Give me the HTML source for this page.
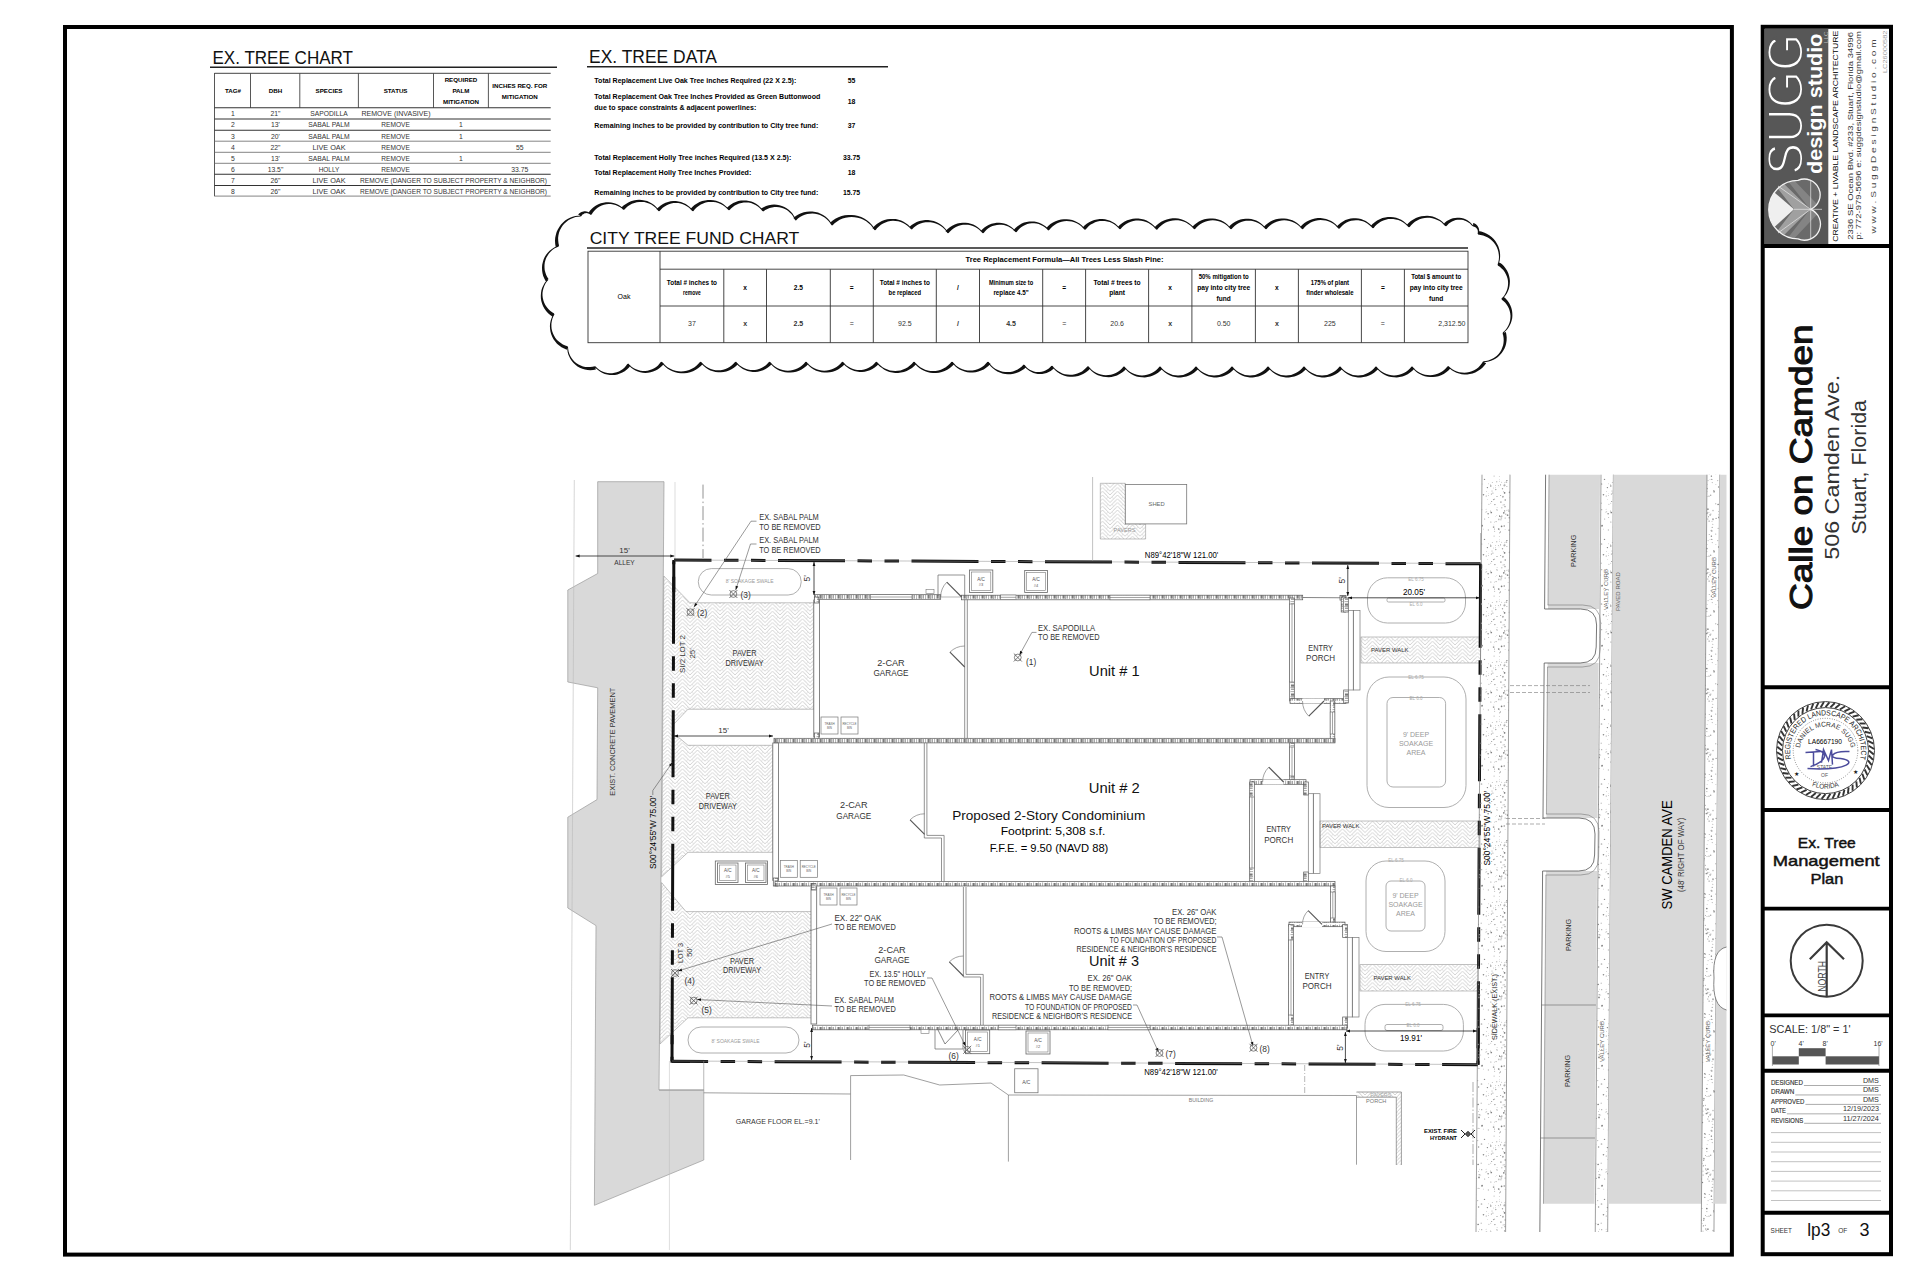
<!DOCTYPE html>
<html><head><meta charset="utf-8"><title>Ex. Tree Management Plan</title>
<style>html,body{margin:0;padding:0;background:#fff;}body{width:1920px;height:1280px;overflow:hidden;font-family:"Liberation Sans",sans-serif;}svg{position:absolute;left:0;top:0;display:block}</style></head>
<body><svg width="1920" height="1280" viewBox="0 0 1920 1280" font-family="Liberation Sans">
<defs>
<pattern id="herr" width="15" height="7.5" patternUnits="userSpaceOnUse">
<path d="M0 7.5 L7.5 0 L15 7.5 M0 3.75 L3.75 0 M11.25 0 L15 3.75 M3.75 7.5 L7.5 3.75 L11.25 7.5" stroke="#cfcfcf" stroke-width="0.9" fill="none"/>
<path d="M1.9 1.9 L3.75 3.75 M5.6 5.6 L3.75 7.5 M13.1 1.9 L11.25 3.75 M9.4 5.6 L11.25 7.5" stroke="#dadada" stroke-width="0.7" fill="none"/>
</pattern>
<pattern id="stip" width="60" height="60" patternUnits="userSpaceOnUse">
<circle cx="27.1" cy="33.6" r="0.7" fill="#b0b0b0"/><circle cx="30.5" cy="35.2" r="0.5" fill="#c0c0c0"/><circle cx="28.5" cy="36.8" r="0.5" fill="#808080"/><circle cx="26.8" cy="8.5" r="0.85" fill="#808080"/><circle cx="35.7" cy="23.8" r="0.7" fill="#c0c0c0"/><circle cx="39.0" cy="37.4" r="0.85" fill="#808080"/><circle cx="3.6" cy="11.4" r="0.5" fill="#c0c0c0"/><circle cx="1.8" cy="27.8" r="0.7" fill="#c0c0c0"/><circle cx="50.5" cy="31.1" r="0.6" fill="#b0b0b0"/><circle cx="0.3" cy="5.1" r="0.6" fill="#b0b0b0"/><circle cx="59.9" cy="59.7" r="0.4" fill="#a0a0a0"/><circle cx="18.9" cy="13.8" r="0.6" fill="#808080"/><circle cx="4.2" cy="46.0" r="0.7" fill="#808080"/><circle cx="50.8" cy="23.2" r="0.4" fill="#808080"/><circle cx="12.8" cy="55.6" r="0.4" fill="#b0b0b0"/><circle cx="22.5" cy="42.5" r="0.7" fill="#808080"/><circle cx="34.0" cy="11.9" r="0.6" fill="#a0a0a0"/><circle cx="5.2" cy="20.0" r="0.7" fill="#808080"/><circle cx="8.1" cy="42.4" r="0.4" fill="#808080"/><circle cx="27.9" cy="29.2" r="0.85" fill="#909090"/><circle cx="26.8" cy="11.4" r="0.5" fill="#b0b0b0"/><circle cx="38.6" cy="7.0" r="0.7" fill="#909090"/><circle cx="0.0" cy="51.9" r="0.85" fill="#a0a0a0"/><circle cx="59.9" cy="1.2" r="0.5" fill="#b0b0b0"/><circle cx="59.8" cy="36.1" r="0.85" fill="#808080"/><circle cx="2.5" cy="8.8" r="0.7" fill="#a0a0a0"/><circle cx="0.6" cy="36.6" r="0.6" fill="#b0b0b0"/><circle cx="4.4" cy="5.4" r="0.85" fill="#909090"/><circle cx="0.9" cy="22.1" r="0.85" fill="#b0b0b0"/><circle cx="7.6" cy="35.2" r="0.85" fill="#909090"/><circle cx="52.0" cy="11.0" r="0.5" fill="#a0a0a0"/><circle cx="54.5" cy="49.1" r="0.5" fill="#909090"/><circle cx="9.5" cy="37.7" r="0.85" fill="#909090"/><circle cx="41.2" cy="23.3" r="0.7" fill="#c0c0c0"/><circle cx="4.7" cy="2.8" r="0.4" fill="#808080"/><circle cx="30.7" cy="15.3" r="0.7" fill="#a0a0a0"/><circle cx="25.2" cy="54.3" r="0.7" fill="#a0a0a0"/><circle cx="31.2" cy="55.8" r="0.4" fill="#909090"/><circle cx="13.7" cy="33.6" r="0.85" fill="#c0c0c0"/><circle cx="4.4" cy="12.7" r="0.5" fill="#808080"/><circle cx="4.1" cy="24.7" r="0.5" fill="#808080"/><circle cx="2.8" cy="16.9" r="0.85" fill="#c0c0c0"/><circle cx="58.4" cy="5.5" r="0.5" fill="#b0b0b0"/><circle cx="58.8" cy="39.4" r="0.85" fill="#c0c0c0"/><circle cx="56.8" cy="35.4" r="0.4" fill="#b0b0b0"/><circle cx="54.6" cy="42.1" r="0.4" fill="#808080"/><circle cx="35.9" cy="4.5" r="0.4" fill="#a0a0a0"/><circle cx="19.1" cy="60.0" r="0.4" fill="#b0b0b0"/><circle cx="32.8" cy="44.2" r="0.5" fill="#a0a0a0"/><circle cx="21.1" cy="41.1" r="0.4" fill="#b0b0b0"/><circle cx="56.7" cy="1.8" r="0.7" fill="#c0c0c0"/><circle cx="0.9" cy="39.7" r="0.7" fill="#c0c0c0"/><circle cx="0.7" cy="4.3" r="0.4" fill="#808080"/><circle cx="59.6" cy="52.8" r="0.6" fill="#b0b0b0"/><circle cx="56.1" cy="41.6" r="0.7" fill="#b0b0b0"/><circle cx="27.8" cy="32.5" r="0.85" fill="#c0c0c0"/><circle cx="1.8" cy="36.1" r="0.7" fill="#808080"/><circle cx="13.8" cy="41.9" r="0.7" fill="#c0c0c0"/><circle cx="39.6" cy="29.2" r="0.4" fill="#a0a0a0"/><circle cx="18.1" cy="40.7" r="0.5" fill="#c0c0c0"/><circle cx="10.2" cy="54.3" r="0.7" fill="#b0b0b0"/><circle cx="53.5" cy="19.6" r="0.6" fill="#909090"/><circle cx="38.1" cy="48.2" r="0.5" fill="#909090"/><circle cx="23.1" cy="35.0" r="0.6" fill="#909090"/><circle cx="8.2" cy="29.8" r="0.4" fill="#808080"/><circle cx="57.0" cy="16.6" r="0.5" fill="#808080"/><circle cx="27.0" cy="16.5" r="0.5" fill="#b0b0b0"/><circle cx="23.0" cy="31.2" r="0.6" fill="#c0c0c0"/><circle cx="27.1" cy="4.5" r="0.4" fill="#a0a0a0"/><circle cx="52.4" cy="2.5" r="0.6" fill="#c0c0c0"/><circle cx="21.3" cy="39.0" r="0.85" fill="#808080"/><circle cx="38.5" cy="24.3" r="0.5" fill="#808080"/><circle cx="46.2" cy="16.0" r="0.5" fill="#808080"/><circle cx="59.0" cy="6.9" r="0.4" fill="#c0c0c0"/><circle cx="39.3" cy="48.4" r="0.4" fill="#909090"/><circle cx="12.0" cy="28.5" r="0.5" fill="#808080"/><circle cx="45.3" cy="32.1" r="0.4" fill="#909090"/><circle cx="13.6" cy="46.7" r="0.85" fill="#c0c0c0"/><circle cx="30.0" cy="59.8" r="0.5" fill="#b0b0b0"/><circle cx="50.9" cy="42.0" r="0.5" fill="#808080"/><circle cx="24.6" cy="53.6" r="0.7" fill="#909090"/><circle cx="27.0" cy="11.8" r="0.4" fill="#b0b0b0"/><circle cx="33.0" cy="39.2" r="0.85" fill="#a0a0a0"/><circle cx="27.8" cy="39.1" r="0.5" fill="#808080"/><circle cx="43.3" cy="49.1" r="0.4" fill="#909090"/><circle cx="14.5" cy="23.4" r="0.4" fill="#a0a0a0"/><circle cx="32.2" cy="47.4" r="0.6" fill="#a0a0a0"/><circle cx="54.6" cy="51.3" r="0.6" fill="#c0c0c0"/><circle cx="5.0" cy="26.5" r="0.85" fill="#b0b0b0"/><circle cx="46.1" cy="29.2" r="0.4" fill="#909090"/><circle cx="48.5" cy="3.8" r="0.4" fill="#909090"/><circle cx="32.0" cy="41.2" r="0.5" fill="#b0b0b0"/><circle cx="8.9" cy="31.0" r="0.85" fill="#b0b0b0"/><circle cx="56.7" cy="29.6" r="0.4" fill="#909090"/><circle cx="26.4" cy="33.5" r="0.85" fill="#909090"/><circle cx="31.4" cy="50.6" r="0.85" fill="#a0a0a0"/><circle cx="18.7" cy="22.9" r="0.85" fill="#909090"/><circle cx="18.3" cy="8.5" r="0.85" fill="#c0c0c0"/><circle cx="16.4" cy="29.9" r="0.7" fill="#c0c0c0"/><circle cx="6.9" cy="0.3" r="0.7" fill="#808080"/><circle cx="32.3" cy="2.6" r="0.7" fill="#c0c0c0"/><circle cx="48.1" cy="33.8" r="0.7" fill="#808080"/><circle cx="41.5" cy="4.0" r="0.85" fill="#b0b0b0"/><circle cx="24.8" cy="57.4" r="0.7" fill="#a0a0a0"/><circle cx="14.8" cy="29.6" r="0.6" fill="#b0b0b0"/><circle cx="54.1" cy="56.1" r="0.7" fill="#c0c0c0"/><circle cx="19.0" cy="11.5" r="0.85" fill="#808080"/><circle cx="55.5" cy="7.8" r="0.4" fill="#808080"/><circle cx="11.6" cy="13.6" r="0.6" fill="#a0a0a0"/><circle cx="43.4" cy="14.7" r="0.7" fill="#808080"/><circle cx="30.0" cy="34.9" r="0.85" fill="#c0c0c0"/><circle cx="15.0" cy="11.9" r="0.85" fill="#b0b0b0"/><circle cx="1.4" cy="38.0" r="0.85" fill="#c0c0c0"/><circle cx="9.6" cy="12.3" r="0.85" fill="#909090"/><circle cx="31.8" cy="51.1" r="0.85" fill="#c0c0c0"/><circle cx="51.4" cy="14.0" r="0.6" fill="#909090"/><circle cx="19.0" cy="18.9" r="0.5" fill="#909090"/><circle cx="46.7" cy="11.7" r="0.4" fill="#909090"/><circle cx="53.3" cy="8.0" r="0.4" fill="#a0a0a0"/><circle cx="23.3" cy="26.1" r="0.7" fill="#c0c0c0"/><circle cx="47.4" cy="7.6" r="0.7" fill="#808080"/><circle cx="5.8" cy="34.2" r="0.6" fill="#a0a0a0"/><circle cx="6.9" cy="30.3" r="0.6" fill="#c0c0c0"/><circle cx="59.9" cy="50.0" r="0.4" fill="#b0b0b0"/><circle cx="6.4" cy="2.2" r="0.85" fill="#c0c0c0"/><circle cx="30.9" cy="34.1" r="0.5" fill="#909090"/><circle cx="11.1" cy="12.2" r="0.5" fill="#a0a0a0"/><circle cx="55.6" cy="5.7" r="0.4" fill="#909090"/><circle cx="57.1" cy="27.7" r="0.4" fill="#a0a0a0"/><circle cx="23.5" cy="25.6" r="0.6" fill="#b0b0b0"/><circle cx="12.6" cy="22.4" r="0.4" fill="#909090"/><circle cx="10.9" cy="27.2" r="0.6" fill="#b0b0b0"/><circle cx="55.3" cy="36.3" r="0.4" fill="#c0c0c0"/><circle cx="47.5" cy="19.4" r="0.4" fill="#b0b0b0"/><circle cx="34.2" cy="11.5" r="0.85" fill="#a0a0a0"/><circle cx="48.3" cy="15.5" r="0.4" fill="#909090"/><circle cx="48.9" cy="24.3" r="0.6" fill="#c0c0c0"/><circle cx="41.7" cy="46.0" r="0.5" fill="#b0b0b0"/><circle cx="12.4" cy="11.1" r="0.6" fill="#a0a0a0"/><circle cx="28.1" cy="0.6" r="0.6" fill="#c0c0c0"/><circle cx="3.0" cy="16.4" r="0.6" fill="#a0a0a0"/><circle cx="13.0" cy="24.4" r="0.5" fill="#c0c0c0"/><circle cx="4.6" cy="30.9" r="0.7" fill="#909090"/><circle cx="42.1" cy="45.7" r="0.85" fill="#808080"/><circle cx="6.9" cy="6.5" r="0.5" fill="#a0a0a0"/><circle cx="26.6" cy="30.3" r="0.5" fill="#b0b0b0"/><circle cx="0.6" cy="15.5" r="0.6" fill="#a0a0a0"/><circle cx="33.0" cy="30.5" r="0.85" fill="#c0c0c0"/><circle cx="50.8" cy="6.0" r="0.7" fill="#808080"/><circle cx="33.0" cy="40.1" r="0.4" fill="#b0b0b0"/><circle cx="55.8" cy="9.6" r="0.7" fill="#909090"/><circle cx="51.3" cy="32.5" r="0.85" fill="#808080"/><circle cx="25.8" cy="29.7" r="0.6" fill="#c0c0c0"/><circle cx="23.9" cy="18.7" r="0.85" fill="#a0a0a0"/><circle cx="29.0" cy="16.2" r="0.6" fill="#a0a0a0"/><circle cx="1.6" cy="46.3" r="0.85" fill="#808080"/><circle cx="38.0" cy="24.5" r="0.7" fill="#808080"/><circle cx="53.9" cy="44.9" r="0.4" fill="#c0c0c0"/><circle cx="59.3" cy="56.7" r="0.4" fill="#909090"/><circle cx="25.8" cy="28.7" r="0.5" fill="#808080"/><circle cx="31.4" cy="56.2" r="0.7" fill="#909090"/><circle cx="58.7" cy="49.0" r="0.85" fill="#808080"/><circle cx="3.0" cy="25.0" r="0.4" fill="#909090"/><circle cx="51.7" cy="21.4" r="0.5" fill="#808080"/><circle cx="21.8" cy="8.4" r="0.7" fill="#b0b0b0"/><circle cx="36.1" cy="38.4" r="0.7" fill="#a0a0a0"/><circle cx="46.7" cy="31.8" r="0.5" fill="#a0a0a0"/><circle cx="44.1" cy="14.3" r="0.4" fill="#c0c0c0"/><circle cx="53.6" cy="47.1" r="0.85" fill="#a0a0a0"/><circle cx="16.5" cy="36.6" r="0.85" fill="#c0c0c0"/><circle cx="11.4" cy="16.7" r="0.5" fill="#909090"/><circle cx="57.1" cy="30.1" r="0.5" fill="#808080"/><circle cx="37.7" cy="0.6" r="0.6" fill="#b0b0b0"/><circle cx="1.6" cy="2.3" r="0.5" fill="#c0c0c0"/><circle cx="16.7" cy="45.3" r="0.5" fill="#c0c0c0"/><circle cx="14.1" cy="58.9" r="0.7" fill="#b0b0b0"/><circle cx="21.2" cy="20.3" r="0.7" fill="#909090"/><circle cx="50.3" cy="4.5" r="0.4" fill="#b0b0b0"/><circle cx="48.6" cy="37.4" r="0.5" fill="#b0b0b0"/><circle cx="25.5" cy="15.5" r="0.5" fill="#a0a0a0"/><circle cx="9.2" cy="50.2" r="0.85" fill="#a0a0a0"/><circle cx="17.5" cy="45.5" r="0.5" fill="#b0b0b0"/><circle cx="39.2" cy="34.8" r="0.7" fill="#a0a0a0"/><circle cx="4.7" cy="5.0" r="0.85" fill="#c0c0c0"/><circle cx="29.1" cy="41.1" r="0.6" fill="#808080"/><circle cx="4.6" cy="12.8" r="0.85" fill="#808080"/><circle cx="41.7" cy="29.7" r="0.6" fill="#a0a0a0"/><circle cx="52.9" cy="13.1" r="0.6" fill="#a0a0a0"/><circle cx="54.4" cy="19.3" r="0.7" fill="#c0c0c0"/><circle cx="35.7" cy="54.1" r="0.6" fill="#b0b0b0"/><circle cx="31.8" cy="59.5" r="0.7" fill="#a0a0a0"/><circle cx="13.3" cy="58.1" r="0.85" fill="#909090"/><circle cx="5.1" cy="49.7" r="0.4" fill="#a0a0a0"/><circle cx="40.6" cy="35.1" r="0.5" fill="#c0c0c0"/><circle cx="22.1" cy="23.4" r="0.5" fill="#c0c0c0"/><circle cx="33.8" cy="10.6" r="0.7" fill="#a0a0a0"/><circle cx="48.7" cy="13.3" r="0.4" fill="#c0c0c0"/><circle cx="9.5" cy="17.8" r="0.4" fill="#b0b0b0"/><circle cx="3.8" cy="32.8" r="0.85" fill="#808080"/><circle cx="20.1" cy="16.4" r="0.4" fill="#a0a0a0"/><circle cx="5.1" cy="38.0" r="0.5" fill="#808080"/><circle cx="44.7" cy="38.9" r="0.5" fill="#909090"/><circle cx="29.3" cy="54.5" r="0.6" fill="#b0b0b0"/><circle cx="23.7" cy="20.3" r="0.6" fill="#909090"/><circle cx="29.6" cy="32.2" r="0.4" fill="#c0c0c0"/><circle cx="54.9" cy="24.6" r="0.6" fill="#808080"/><circle cx="48.4" cy="50.0" r="0.7" fill="#c0c0c0"/><circle cx="38.4" cy="31.4" r="0.4" fill="#808080"/><circle cx="25.3" cy="25.2" r="0.5" fill="#909090"/><circle cx="44.5" cy="59.5" r="0.7" fill="#909090"/>
</pattern>
<pattern id="wallH" width="9" height="6" patternUnits="userSpaceOnUse">
<rect x="0" y="0" width="9" height="6" fill="#fff"/>
<rect x="0.5" y="1" width="2.2" height="3.6" fill="#7a7a7a"/>
<rect x="4.5" y="1" width="1.5" height="3.6" fill="#a5a5a5"/>
<line x1="3.5" y1="0.5" x2="3.5" y2="5" stroke="#777" stroke-width="0.6"/>
<line x1="7.6" y1="0.5" x2="7.6" y2="5" stroke="#777" stroke-width="0.6"/>
</pattern>
<pattern id="wallV" width="6" height="9" patternUnits="userSpaceOnUse">
<rect x="0" y="0" width="6" height="9" fill="#fff"/>
<rect x="1" y="0.5" width="3.6" height="2.2" fill="#7a7a7a"/>
<rect x="1" y="4.5" width="3.6" height="1.5" fill="#a5a5a5"/>
<line y1="3.5" x1="0.5" y2="3.5" x2="5" stroke="#777" stroke-width="0.6"/>
<line y1="7.6" x1="0.5" y2="7.6" x2="5" stroke="#777" stroke-width="0.6"/>
</pattern>
<marker id="arr" viewBox="0 0 10 10" refX="10" refY="5" markerWidth="7" markerHeight="4" orient="auto-start-reverse" markerUnits="userSpaceOnUse">
<path d="M0 1.5 L10 5 L0 8.5 z" fill="#111"/></marker>
</defs>
<polygon points="597.7,481.7 664.0,481.7 661.6,800.0 659.0,1090.0 703.8,1090.0 703.8,1160.0 594.4,1205.3 596.0,925.6 567.8,908.0 567.8,817.2 597.0,799.6 597.7,687.8 567.8,682.0 567.8,590.0 597.7,573.5" fill="#d9d9d9" stroke="#9a9a9a" stroke-width="0.7"/>
<line x1="574.3" y1="480" x2="570.3" y2="1250" stroke="#bbb" stroke-width="0.6" />
<line x1="675" y1="482" x2="675" y2="560" stroke="#bbb" stroke-width="0.5" />
<line x1="669.4" y1="1061" x2="669.4" y2="1250" stroke="#bbb" stroke-width="0.5" />
<text x="615.5" y="795.7" font-size="7.6" font-family="Liberation Sans" fill="#333" textLength="108" lengthAdjust="spacingAndGlyphs" transform="rotate(-90 615.5 795.7)">EXIST. CONCRETE PAVEMENT</text>
<polygon points="663.8,576 690,602.8 814,602.8 814,709.2 688,709.2 673,725 673,736 677,736 688,745.3 773,745.3 773,852.3 688,852.3 661.6,876.8" fill="url(#herr)" stroke="#999" stroke-width="0.6"/>
<polygon points="661.6,882.6 686,911.6 812,911.6 812,1017.8 688,1017.8 660,1044" fill="url(#herr)" stroke="#999" stroke-width="0.6"/>
<rect x="1361" y="637" width="119.5" height="26" fill="url(#herr)" stroke="#999" stroke-width="0.6"/>
<rect x="1320" y="821" width="160" height="26.5" fill="url(#herr)" stroke="#999" stroke-width="0.6"/>
<rect x="1360" y="964.7" width="118" height="26.3" fill="url(#herr)" stroke="#999" stroke-width="0.6"/>
<polygon points="1100.3,483.3 1125.3,483.3 1125.3,523.9 1145.6,523.9 1145.6,539 1100.3,539" fill="url(#herr)" stroke="#999" stroke-width="0.6"/>
<rect x="698.3" y="568.6" width="102.9" height="26.4" rx="13" fill="none" stroke="#9a9a9a" stroke-width="0.8"/>
<rect x="688" y="1027" width="111" height="26" rx="13" fill="none" stroke="#9a9a9a" stroke-width="0.8"/>
<rect x="1367.5" y="577.8" width="98" height="45.2" rx="20" fill="none" stroke="#9a9a9a" stroke-width="0.8"/>
<rect x="1387" y="598" width="58" height="4" rx="1.5" fill="none" stroke="#9a9a9a" stroke-width="0.8"/>
<rect x="1367" y="677" width="99" height="130.5" rx="22" fill="none" stroke="#9a9a9a" stroke-width="0.8"/>
<rect x="1387" y="697.5" width="58.6" height="89.5" rx="6" fill="none" stroke="#9a9a9a" stroke-width="0.8"/>
<rect x="1366" y="861" width="79" height="90.5" rx="20" fill="none" stroke="#9a9a9a" stroke-width="0.8"/>
<rect x="1386" y="881" width="39" height="50" rx="5" fill="none" stroke="#9a9a9a" stroke-width="0.8"/>
<rect x="1365" y="1004.4" width="98.4" height="46.6" rx="20" fill="none" stroke="#9a9a9a" stroke-width="0.8"/>
<rect x="1385" y="1024.5" width="58" height="6" rx="2" fill="none" stroke="#9a9a9a" stroke-width="0.8"/>
<text x="749.7" y="582.5" font-size="5" font-family="Liberation Sans" text-anchor="middle" fill="#999" textLength="48" lengthAdjust="spacingAndGlyphs">8' SOAKAGE SWALE</text>
<text x="735.5" y="1042.5" font-size="5" font-family="Liberation Sans" text-anchor="middle" fill="#999" textLength="48" lengthAdjust="spacingAndGlyphs">8' SOAKAGE SWALE</text>
<text x="1416.0" y="581.0" font-size="4.5" font-family="Liberation Sans" text-anchor="middle" fill="#aaa">EL 6.75</text>
<text x="1416.0" y="605.5" font-size="4.5" font-family="Liberation Sans" text-anchor="middle" fill="#aaa">EL 6.0</text>
<text x="1416.0" y="678.5" font-size="4.5" font-family="Liberation Sans" text-anchor="middle" fill="#aaa">EL 6.75</text>
<text x="1416.0" y="699.5" font-size="4.5" font-family="Liberation Sans" text-anchor="middle" fill="#aaa">EL 6.0</text>
<text x="1396.0" y="862.0" font-size="4.5" font-family="Liberation Sans" text-anchor="middle" fill="#aaa">EL 6.75</text>
<text x="1406.0" y="882.0" font-size="4.5" font-family="Liberation Sans" text-anchor="middle" fill="#aaa">EL 6.0</text>
<text x="1413.0" y="1006.0" font-size="4.5" font-family="Liberation Sans" text-anchor="middle" fill="#aaa">EL 6.75</text>
<text x="1413.0" y="1027.0" font-size="4.5" font-family="Liberation Sans" text-anchor="middle" fill="#aaa">EL 6.0</text>
<text x="1416.0" y="737.0" font-size="7" font-family="Liberation Sans" text-anchor="middle" fill="#999">9' DEEP</text>
<text x="1405.5" y="898.0" font-size="7" font-family="Liberation Sans" text-anchor="middle" fill="#999">9' DEEP</text>
<text x="1416.0" y="746.2" font-size="7" font-family="Liberation Sans" text-anchor="middle" fill="#999">SOAKAGE</text>
<text x="1405.5" y="907.2" font-size="7" font-family="Liberation Sans" text-anchor="middle" fill="#999">SOAKAGE</text>
<text x="1416.0" y="755.4" font-size="7" font-family="Liberation Sans" text-anchor="middle" fill="#999">AREA</text>
<text x="1405.5" y="916.4" font-size="7" font-family="Liberation Sans" text-anchor="middle" fill="#999">AREA</text>
<path d="M674 560 L1480.6 563.8" stroke="#111" stroke-width="3" fill="none" stroke-dasharray="67 12.5 14.5 12.5 14.5 12.5" stroke-dashoffset="29.5"/>
<path d="M1480.6 563.8 L1478 1064.7" stroke="#111" stroke-width="3" fill="none" stroke-dasharray="67 12.5 14.5 12.5 14.5 12.5" stroke-dashoffset="116.5"/>
<path d="M672 1061.3 L1478 1064.7" stroke="#111" stroke-width="3" fill="none" stroke-dasharray="67 12.5 14.5 12.5 14.5 12.5" stroke-dashoffset="30.9"/>
<path d="M673.8 560 L672 1061.3" stroke="#111" stroke-width="3" fill="none" stroke-dasharray="67 12.5 14.5 12.5 14.5 12.5" stroke-dashoffset="116.7"/>
<path d="M673.8 561.5 L673.8 592 M1480.6 565 L1480.5 592" stroke="#111" stroke-width="3" fill="none" />
<path d="M672.1 1035 L672 1061.3 L690 1061.4 M1478.2 1028 L1478 1064.7" stroke="#111" stroke-width="3" fill="none" />
<line x1="674" y1="560" x2="1480" y2="563.5" stroke="#888" stroke-width="0.5" />
<line x1="672" y1="1061" x2="1478" y2="1064.5" stroke="#888" stroke-width="0.5" />
<line x1="703" y1="484.6" x2="703" y2="558" stroke="#777" stroke-width="0.8" stroke-dasharray="14 3 1.5 3"/>
<line x1="1092.6" y1="477" x2="1092.6" y2="561" stroke="#999" stroke-width="0.6" />
<line x1="1480.5" y1="533" x2="1480.5" y2="560" stroke="#999" stroke-width="0.6" />
<rect x="814.5" y="594.7" width="126.2" height="4.6" fill="url(#wallH)" stroke="#555" stroke-width="0.7"/>
<rect x="961.6" y="595.2" width="341.1" height="4.6" fill="url(#wallH)" stroke="#555" stroke-width="0.7"/>
<line x1="1302.7" y1="597.5" x2="1346" y2="597.8" stroke="#666" stroke-width="0.8" />
<rect x="1340" y="595.5" width="6.0" height="4.6" fill="url(#wallH)" stroke="#555" stroke-width="0.7"/>
<rect x="1341.2" y="597" width="4.6" height="15.0" fill="url(#wallV)" stroke="#555" stroke-width="0.7"/>
<rect x="870.4" y="594.7" width="41.60000000000002" height="4.6" fill="#fff" stroke="#666" stroke-width="0.6"/><line x1="870.4" y1="597" x2="912" y2="597" stroke="#666" stroke-width="0.6" />
<rect x="1000.6" y="595.0" width="15.399999999999977" height="4.6" fill="#fff" stroke="#666" stroke-width="0.6"/><line x1="1000.6" y1="597.3" x2="1016" y2="597.3" stroke="#666" stroke-width="0.6" />
<rect x="1110" y="595.2" width="40" height="4.6" fill="#fff" stroke="#666" stroke-width="0.6"/><line x1="1110" y1="597.5" x2="1150" y2="597.5" stroke="#666" stroke-width="0.6" />
<line x1="940.7" y1="597" x2="961.6" y2="597" stroke="#888" stroke-width="0.6" />
<rect x="813.8" y="600" width="5.7" height="137" stroke="#666" stroke-width="0.8" fill="#fff" />
<rect x="814.3" y="733" width="4.6" height="9.0" fill="url(#wallV)" stroke="#555" stroke-width="0.7"/>
<rect x="814.3" y="597" width="4.6" height="6.0" fill="url(#wallV)" stroke="#555" stroke-width="0.7"/>
<line x1="964.7" y1="599.5" x2="964.7" y2="738.5" stroke="#666" stroke-width="0.7" /><line x1="967.3" y1="599.5" x2="967.3" y2="738.5" stroke="#666" stroke-width="0.7" />
<path d="M964.7 667 L949.9 652.2" stroke="#555" stroke-width="1.1" fill="none" /><path d="M964.7 646.0 A21 21 0 0 0 949.9 652.2" stroke="#666" stroke-width="0.6" fill="none" />
<path d="M938 596 L938 575 L964.7 575 L964.7 596" stroke="#666" stroke-width="0.7" fill="none" />
<path d="M961.6 597 L946.8 582.2" stroke="#555" stroke-width="1.1" fill="none" /><path d="M940.7 597.0 A20.9 20.9 0 0 1 946.8 582.2" stroke="#666" stroke-width="0.6" fill="none" />
<rect x="926" y="589.5" width="8" height="4" stroke="#777" stroke-width="0.6" fill="#fff" />
<rect x="1289.7" y="598" width="4.6" height="103.0" fill="url(#wallV)" stroke="#555" stroke-width="0.7"/>
<rect x="1289.7" y="604" width="4.6" height="78" fill="#fff" stroke="#666" stroke-width="0.6"/><line x1="1292" y1="604" x2="1292" y2="682" stroke="#666" stroke-width="0.6" />
<rect x="1290" y="698.7" width="56.0" height="4.6" fill="url(#wallH)" stroke="#555" stroke-width="0.7"/>
<rect x="1302.5" y="698.5" width="21.5" height="5" stroke="#fff" stroke-width="0" fill="#fff" />
<path d="M1324 701 L1308.8 716.2" stroke="#555" stroke-width="1.1" fill="none" /><path d="M1302.5 701.0 A21.5 21.5 0 0 0 1308.8 716.2" stroke="#666" stroke-width="0.6" fill="none" />
<rect x="1343.7" y="598" width="4.6" height="14.0" fill="url(#wallV)" stroke="#555" stroke-width="0.7"/>
<rect x="1343.7" y="690" width="4.6" height="13.0" fill="url(#wallV)" stroke="#555" stroke-width="0.7"/>
<rect x="1348.3" y="610.6" width="5" height="79.4" stroke="#777" stroke-width="0.7" fill="none" />
<rect x="1353.3" y="610.6" width="6.7" height="79.4" stroke="#777" stroke-width="0.7" fill="none" />
<rect x="1330.2" y="701" width="4.6" height="41.0" fill="url(#wallV)" stroke="#555" stroke-width="0.7"/>
<rect x="1330.2" y="712" width="4.6" height="22" fill="#fff" stroke="#666" stroke-width="0.6"/><line x1="1332.5" y1="712" x2="1332.5" y2="734" stroke="#666" stroke-width="0.6" />
<rect x="774" y="738.3" width="561.0" height="4.6" fill="url(#wallH)" stroke="#555" stroke-width="0.7"/>
<rect x="772.8" y="743" width="5.7" height="137.5" stroke="#666" stroke-width="0.8" fill="#fff" />
<rect x="773.3" y="878" width="4.6" height="8.0" fill="url(#wallV)" stroke="#555" stroke-width="0.7"/>
<path d="M924.3 743 L924.3 838 L941.5 838 L941.5 881.5 M926.9 743 L926.9 835.4 L944.1 835.4 L944.1 881.5" stroke="#666" stroke-width="0.7" fill="none" />
<path d="M924.6 834.3 L910.1 819.8" stroke="#555" stroke-width="1.1" fill="none" /><path d="M924.6 813.8 A20.5 20.5 0 0 0 910.1 819.8" stroke="#666" stroke-width="0.6" fill="none" />
<rect x="1289.7" y="743" width="4.6" height="39.0" fill="url(#wallV)" stroke="#555" stroke-width="0.7"/>
<rect x="1289.7" y="747" width="4.6" height="29" fill="#fff" stroke="#666" stroke-width="0.6"/><line x1="1292" y1="747" x2="1292" y2="776" stroke="#666" stroke-width="0.6" />
<rect x="1250" y="779.7" width="56.0" height="4.6" fill="url(#wallH)" stroke="#555" stroke-width="0.7"/>
<rect x="1262.5" y="779.5" width="21" height="5" stroke="#fff" stroke-width="0" fill="#fff" />
<path d="M1283.6 782 L1268.8 767.2" stroke="#555" stroke-width="1.1" fill="none" /><path d="M1262.6 782.0 A21 21 0 0 1 1268.8 767.2" stroke="#666" stroke-width="0.6" fill="none" />
<rect x="1249.7" y="782" width="4.6" height="101.7" fill="url(#wallV)" stroke="#555" stroke-width="0.7"/>
<rect x="1249.7" y="797" width="4.6" height="71" fill="#fff" stroke="#666" stroke-width="0.6"/><line x1="1252" y1="797" x2="1252" y2="868" stroke="#666" stroke-width="0.6" />
<rect x="1303.7" y="782" width="4.6" height="13.0" fill="url(#wallV)" stroke="#555" stroke-width="0.7"/>
<rect x="1303.7" y="872" width="4.6" height="13.0" fill="url(#wallV)" stroke="#555" stroke-width="0.7"/>
<rect x="1308.3" y="793.7" width="5" height="79.7" stroke="#777" stroke-width="0.7" fill="none" />
<rect x="1313.3" y="793.7" width="6.7" height="79.7" stroke="#777" stroke-width="0.7" fill="none" />
<rect x="775" y="881.4" width="560.0" height="4.6" fill="url(#wallH)" stroke="#555" stroke-width="0.7"/>
<rect x="811" y="887" width="5.7" height="137" stroke="#666" stroke-width="0.8" fill="#fff" />
<rect x="811.4" y="883.7" width="4.6" height="6.3" fill="url(#wallV)" stroke="#555" stroke-width="0.7"/>
<path d="M963.4 887 L963.4 977 L980.6 977 L980.6 1025 M966 887 L966 974.4 L983.2 974.4 L983.2 1025" stroke="#666" stroke-width="0.7" fill="none" />
<path d="M963.4 976 L949.3 961.9" stroke="#555" stroke-width="1.1" fill="none" /><path d="M963.4 956.0 A20 20 0 0 0 949.3 961.9" stroke="#666" stroke-width="0.6" fill="none" />
<rect x="1330.5" y="886" width="4.6" height="38.4" fill="url(#wallV)" stroke="#555" stroke-width="0.7"/>
<rect x="1330.5" y="892" width="4.6" height="26" fill="#fff" stroke="#666" stroke-width="0.6"/><line x1="1332.8" y1="892" x2="1332.8" y2="918" stroke="#666" stroke-width="0.6" />
<rect x="1289" y="922.1" width="56.0" height="4.6" fill="url(#wallH)" stroke="#555" stroke-width="0.7"/>
<rect x="1302" y="922" width="20" height="5" stroke="#fff" stroke-width="0" fill="#fff" />
<path d="M1322 924.4 L1308.2 910.6" stroke="#555" stroke-width="1.1" fill="none" /><path d="M1302.5 924.4 A19.5 19.5 0 0 1 1308.2 910.6" stroke="#666" stroke-width="0.6" fill="none" />
<rect x="1288.7" y="924.4" width="4.6" height="103.6" fill="url(#wallV)" stroke="#555" stroke-width="0.7"/>
<rect x="1288.7" y="940" width="4.6" height="75" fill="#fff" stroke="#666" stroke-width="0.6"/><line x1="1291" y1="940" x2="1291" y2="1015" stroke="#666" stroke-width="0.6" />
<rect x="1342.7" y="924.4" width="4.6" height="13.1" fill="url(#wallV)" stroke="#555" stroke-width="0.7"/>
<rect x="1342.7" y="1017" width="4.6" height="11.0" fill="url(#wallV)" stroke="#555" stroke-width="0.7"/>
<rect x="1347.3" y="937.5" width="5" height="79.5" stroke="#777" stroke-width="0.7" fill="none" />
<rect x="1352.3" y="937.5" width="6.7" height="79.5" stroke="#777" stroke-width="0.7" fill="none" />
<rect x="812.5" y="1025.2" width="534.5" height="4.6" fill="url(#wallH)" stroke="#555" stroke-width="0.7"/>
<rect x="869" y="1025.2" width="41" height="4.6" fill="#fff" stroke="#666" stroke-width="0.6"/><line x1="869" y1="1027.5" x2="910" y2="1027.5" stroke="#666" stroke-width="0.6" />
<rect x="998.4" y="1025.2" width="17.600000000000023" height="4.6" fill="#fff" stroke="#666" stroke-width="0.6"/><line x1="998.4" y1="1027.5" x2="1016" y2="1027.5" stroke="#666" stroke-width="0.6" />
<rect x="1108" y="1025.2" width="42" height="4.6" fill="#fff" stroke="#666" stroke-width="0.6"/><line x1="1108" y1="1027.5" x2="1150" y2="1027.5" stroke="#666" stroke-width="0.6" />
<path d="M935 1030 L935 1049 L963 1049 L963 1030" stroke="#666" stroke-width="0.7" fill="none" />
<path d="M938 1030 L945 1044 L958 1030" stroke="#555" stroke-width="0.7" fill="none" />
<rect x="921" y="1029.5" width="8" height="4" stroke="#777" stroke-width="0.6" fill="#fff" />
<rect x="969.4" y="570" width="23.399999999999977" height="22.5" stroke="#666" stroke-width="0.8" fill="none" /><rect x="971.4" y="572" width="19.399999999999977" height="18.5" stroke="#777" stroke-width="0.6" fill="none" /><text x="981.1" y="580.8" font-size="4.6" font-family="Liberation Sans" text-anchor="middle" fill="#555">A/C</text><text x="981.1" y="586.2" font-size="4" font-family="Liberation Sans" text-anchor="middle" fill="#555">#3</text>
<rect x="1024.7" y="570.6" width="22.799999999999955" height="21.899999999999977" stroke="#666" stroke-width="0.8" fill="none" /><rect x="1026.7" y="572.6" width="18.799999999999955" height="17.899999999999977" stroke="#777" stroke-width="0.6" fill="none" /><text x="1036.1" y="581.0" font-size="4.6" font-family="Liberation Sans" text-anchor="middle" fill="#555">A/C</text><text x="1036.1" y="586.5" font-size="4" font-family="Liberation Sans" text-anchor="middle" fill="#555">#4</text>
<rect x="965.6" y="1030" width="24.100000000000023" height="23.700000000000045" stroke="#666" stroke-width="0.8" fill="none" /><rect x="967.6" y="1032" width="20.100000000000023" height="19.700000000000045" stroke="#777" stroke-width="0.6" fill="none" /><text x="977.7" y="1041.3" font-size="4.6" font-family="Liberation Sans" text-anchor="middle" fill="#555">A/C</text><text x="977.7" y="1046.8" font-size="4" font-family="Liberation Sans" text-anchor="middle" fill="#555">#1</text>
<rect x="1026" y="1031" width="24" height="23" stroke="#666" stroke-width="0.8" fill="none" /><rect x="1028" y="1033" width="20" height="19" stroke="#777" stroke-width="0.6" fill="none" /><text x="1038.0" y="1042.0" font-size="4.6" font-family="Liberation Sans" text-anchor="middle" fill="#555">A/C</text><text x="1038.0" y="1047.5" font-size="4" font-family="Liberation Sans" text-anchor="middle" fill="#555">#2</text>
<rect x="715.3" y="861" width="52.1" height="23.6" stroke="#666" stroke-width="0.8" fill="none" />
<rect x="717.5" y="863" width="20.5" height="19.5" stroke="#666" stroke-width="0.8" fill="none" /><rect x="719.5" y="865" width="16.5" height="15.5" stroke="#777" stroke-width="0.6" fill="none" /><text x="727.8" y="872.2" font-size="4.6" font-family="Liberation Sans" text-anchor="middle" fill="#555">A/C</text><text x="727.8" y="877.8" font-size="4" font-family="Liberation Sans" text-anchor="middle" fill="#555">#5</text>
<rect x="745.5" y="863" width="20.5" height="19.5" stroke="#666" stroke-width="0.8" fill="none" /><rect x="747.5" y="865" width="16.5" height="15.5" stroke="#777" stroke-width="0.6" fill="none" /><text x="755.8" y="872.2" font-size="4.6" font-family="Liberation Sans" text-anchor="middle" fill="#555">A/C</text><text x="755.8" y="877.8" font-size="4" font-family="Liberation Sans" text-anchor="middle" fill="#555">#6</text>
<rect x="821" y="717" width="17" height="17" stroke="#777" stroke-width="0.7" fill="none" /><text x="829.5" y="725.0" font-size="3" font-family="Liberation Sans" text-anchor="middle" fill="#666">TRASH</text><text x="829.5" y="729.0" font-size="3" font-family="Liberation Sans" text-anchor="middle" fill="#666">BIN</text>
<rect x="841" y="717" width="17" height="17" stroke="#777" stroke-width="0.7" fill="none" /><text x="849.5" y="725.0" font-size="3" font-family="Liberation Sans" text-anchor="middle" fill="#666">RECYCLE</text><text x="849.5" y="729.0" font-size="3" font-family="Liberation Sans" text-anchor="middle" fill="#666">BIN</text>
<rect x="780.3" y="860.5" width="17.0" height="16.799999999999955" stroke="#777" stroke-width="0.7" fill="none" /><text x="788.8" y="868.4" font-size="3" font-family="Liberation Sans" text-anchor="middle" fill="#666">TRASH</text><text x="788.8" y="872.4" font-size="3" font-family="Liberation Sans" text-anchor="middle" fill="#666">BIN</text>
<rect x="800.2" y="860.5" width="17.199999999999932" height="16.799999999999955" stroke="#777" stroke-width="0.7" fill="none" /><text x="808.8" y="868.4" font-size="3" font-family="Liberation Sans" text-anchor="middle" fill="#666">RECYCLE</text><text x="808.8" y="872.4" font-size="3" font-family="Liberation Sans" text-anchor="middle" fill="#666">BIN</text>
<rect x="820" y="888" width="17" height="17" stroke="#777" stroke-width="0.7" fill="none" /><text x="828.5" y="896.0" font-size="3" font-family="Liberation Sans" text-anchor="middle" fill="#666">TRASH</text><text x="828.5" y="900.0" font-size="3" font-family="Liberation Sans" text-anchor="middle" fill="#666">BIN</text>
<rect x="840" y="888" width="17" height="17" stroke="#777" stroke-width="0.7" fill="none" /><text x="848.5" y="896.0" font-size="3" font-family="Liberation Sans" text-anchor="middle" fill="#666">RECYCLE</text><text x="848.5" y="900.0" font-size="3" font-family="Liberation Sans" text-anchor="middle" fill="#666">BIN</text>
<polygon points="1482.0,474.7 1510.0,474.7 1505.6,1232.0 1476.0,1232.0" fill="url(#stip)" stroke="none" stroke-width="0.7"/>
<line x1="1482" y1="474.7" x2="1476" y2="1232" stroke="#777" stroke-width="0.7" />
<line x1="1510" y1="474.7" x2="1505.6" y2="1232" stroke="#777" stroke-width="0.7" />
<polygon points="1549.0,474.7 1600.0,474.7 1599.0,609.0 1548.0,609.0" fill="#d9d9d9" stroke="none" stroke-width="0.7"/>
<polygon points="1547.6,663.0 1598.6,663.0 1597.4,818.0 1546.4,818.0" fill="#d9d9d9" stroke="none" stroke-width="0.7"/>
<polygon points="1546.0,871.0 1597.0,871.0 1594.5,1203.8 1543.5,1203.8" fill="#d9d9d9" stroke="none" stroke-width="0.7"/>
<line x1="1545.6" y1="474.7" x2="1544.5834482758619" y2="609" stroke="#555" stroke-width="0.8" />
<line x1="1544.1737931034481" y1="663" x2="1542.9979310344827" y2="818" stroke="#555" stroke-width="0.8" />
<line x1="1542.5958620689655" y1="871" x2="1539.8572413793102" y2="1232" stroke="#555" stroke-width="0.8" />
<line x1="1549.002275862069" y1="474.7" x2="1548.0137931034483" y2="605" stroke="#777" stroke-width="0.6" />
<line x1="1547.5434482758621" y1="667" x2="1546.4282758620689" y2="814" stroke="#777" stroke-width="0.6" />
<line x1="1545.9655172413793" y1="875" x2="1543.471551724138" y2="1203.75" stroke="#777" stroke-width="0.6" />
<path d="M1544.6 609 L1580.6 609 Q1596.6 609 1596.6 625 L1596.2 647 Q1596.2 663 1580.2 663 L1544.2 663" stroke="#555" stroke-width="0.8" fill="none" />
<path d="M1547.6 605 L1582.6 605 Q1600.6 605 1600.6 623 L1600.2 649 Q1600.2 667 1582.2 667 L1547.2 667" stroke="#777" stroke-width="0.6" fill="none" />
<path d="M1543.0 818 L1579.0 818 Q1595.0 818 1595.0 834 L1594.6 855 Q1594.6 871 1578.6 871 L1542.6 871" stroke="#555" stroke-width="0.8" fill="none" />
<path d="M1546.0 814 L1581.0 814 Q1599.0 814 1599.0 832 L1598.6 857 Q1598.6 875 1580.6 875 L1545.6 875" stroke="#777" stroke-width="0.6" fill="none" />
<path d="M1510 685.6 L1590 685.6 M1510 692.5 L1590 692.5" stroke="#777" stroke-width="0.6" fill="none" stroke-dasharray="4 2"/>
<path d="M1506 818.5 L1545 818.5 M1506 824 L1545 824" stroke="#777" stroke-width="0.6" fill="none" stroke-dasharray="4 2"/>
<line x1="1540.9793103448276" y1="1005" x2="1595.9793103448276" y2="1005" stroke="#777" stroke-width="0.7" />
<line x1="1539.9703448275861" y1="1138" x2="1594.9703448275861" y2="1138" stroke="#777" stroke-width="0.7" />
<polygon points="1601.0,474.7 1613.4,474.7 1607.7,1232.0 1595.3,1232.0" fill="url(#stip)" stroke="none" stroke-width="0.7"/>
<line x1="1601" y1="474.7" x2="1595.2572413793102" y2="1232" stroke="#777" stroke-width="0.7" />
<line x1="1613.4" y1="474.7" x2="1607.6572413793103" y2="1232" stroke="#777" stroke-width="0.7" />
<polygon points="1613.4,474.7 1707.0,474.7 1701.5,1203.8 1607.9,1203.8" fill="#d9d9d9" stroke="none" stroke-width="0.7"/>
<polygon points="1707.0,474.7 1719.7,474.7 1714.0,1232.0 1701.3,1232.0" fill="url(#stip)" stroke="none" stroke-width="0.7"/>
<line x1="1707" y1="474.7" x2="1701.2572413793102" y2="1232" stroke="#777" stroke-width="0.7" />
<line x1="1719.7" y1="474.7" x2="1713.9572413793103" y2="1232" stroke="#777" stroke-width="0.7" />
<polygon points="1719.7,474.7 1726.5,474.7 1726.5,1203.8 1714.2,1203.8" fill="#d9d9d9" stroke="none" stroke-width="0.7"/>
<path d="M1726.5 947 Q1712 950 1714 978 Q1712 1006 1726.5 1010" stroke="#666" stroke-width="0.8" fill="#fff" />
<text x="1575.9" y="566.9" font-size="7.6" font-family="Liberation Sans" fill="#333" textLength="32.2" lengthAdjust="spacingAndGlyphs" transform="rotate(-90 1575.9 566.9)">PARKING</text>
<text x="1570.8" y="951.0" font-size="7.6" font-family="Liberation Sans" fill="#333" textLength="32.2" lengthAdjust="spacingAndGlyphs" transform="rotate(-90 1570.8 951.0)">PARKING</text>
<text x="1570.0" y="1087.0" font-size="7.6" font-family="Liberation Sans" fill="#333" textLength="32.2" lengthAdjust="spacingAndGlyphs" transform="rotate(-90 1570.0 1087.0)">PARKING</text>
<text x="1607.5" y="610.0" font-size="5.2" font-family="Liberation Sans" fill="#666" textLength="41" lengthAdjust="spacingAndGlyphs" transform="rotate(-90 1607.5 610.0)">VALLEY CURB</text>
<text x="1619.5" y="611.0" font-size="5.2" font-family="Liberation Sans" fill="#666" textLength="39" lengthAdjust="spacingAndGlyphs" transform="rotate(-90 1619.5 611.0)">PAVED ROAD</text>
<text x="1715.5" y="598.0" font-size="5.2" font-family="Liberation Sans" fill="#666" textLength="41" lengthAdjust="spacingAndGlyphs" transform="rotate(-90 1715.5 598.0)">VALLEY CURB</text>
<text x="1604.0" y="1062.0" font-size="5.2" font-family="Liberation Sans" fill="#666" textLength="41" lengthAdjust="spacingAndGlyphs" transform="rotate(-90 1604.0 1062.0)">VALLEY CURB</text>
<text x="1709.5" y="1062.0" font-size="5.2" font-family="Liberation Sans" fill="#666" textLength="41" lengthAdjust="spacingAndGlyphs" transform="rotate(-90 1709.5 1062.0)">VALLEY CURB</text>
<text x="1672.2" y="909.5" font-size="15.2" font-family="Liberation Sans" textLength="109.3" lengthAdjust="spacingAndGlyphs" transform="rotate(-90 1672.2 909.5)">SW CAMDEN AVE</text>
<text x="1683.8" y="892.0" font-size="8.5" font-family="Liberation Sans" fill="#333" textLength="74.3" lengthAdjust="spacingAndGlyphs" transform="rotate(-90 1683.8 892.0)">(48' RIGHT OF WAY)</text>
<text x="1496.5" y="1040.0" font-size="7" font-family="Liberation Sans" fill="#333" textLength="66" lengthAdjust="spacingAndGlyphs" transform="rotate(-90 1496.5 1040.0)">SIDEWALK (EXIST.)</text>
<text x="759.2" y="520.3" font-size="8.2" font-family="Liberation Sans" fill="#333" textLength="59.6" lengthAdjust="spacingAndGlyphs">EX. SABAL PALM</text>
<text x="759.2" y="529.7" font-size="8.2" font-family="Liberation Sans" fill="#333" textLength="61.5" lengthAdjust="spacingAndGlyphs">TO BE REMOVED</text>
<text x="759.2" y="543.2" font-size="8.2" font-family="Liberation Sans" fill="#333" textLength="59.6" lengthAdjust="spacingAndGlyphs">EX. SABAL PALM</text>
<text x="759.2" y="552.6" font-size="8.2" font-family="Liberation Sans" fill="#333" textLength="61.5" lengthAdjust="spacingAndGlyphs">TO BE REMOVED</text>
<text x="1038.0" y="630.8" font-size="8.2" font-family="Liberation Sans" fill="#333" textLength="57" lengthAdjust="spacingAndGlyphs">EX. SAPODILLA</text>
<text x="1038.0" y="640.2" font-size="8.2" font-family="Liberation Sans" fill="#333" textLength="61.5" lengthAdjust="spacingAndGlyphs">TO BE REMOVED</text>
<text x="834.4" y="920.8" font-size="8.2" font-family="Liberation Sans" fill="#333" textLength="47" lengthAdjust="spacingAndGlyphs">EX. 22" OAK</text>
<text x="834.4" y="930.2" font-size="8.2" font-family="Liberation Sans" fill="#333" textLength="61.5" lengthAdjust="spacingAndGlyphs">TO BE REMOVED</text>
<text x="925.6" y="977.0" font-size="8.2" font-family="Liberation Sans" text-anchor="end" fill="#333" textLength="56" lengthAdjust="spacingAndGlyphs">EX. 13.5" HOLLY</text>
<text x="925.6" y="986.4" font-size="8.2" font-family="Liberation Sans" text-anchor="end" fill="#333" textLength="61.5" lengthAdjust="spacingAndGlyphs">TO BE REMOVED</text>
<text x="834.4" y="1003.0" font-size="8.2" font-family="Liberation Sans" fill="#333" textLength="59.6" lengthAdjust="spacingAndGlyphs">EX. SABAL PALM</text>
<text x="834.4" y="1012.4" font-size="8.2" font-family="Liberation Sans" fill="#333" textLength="61.5" lengthAdjust="spacingAndGlyphs">TO BE REMOVED</text>
<text x="1216.5" y="914.7" font-size="8.2" font-family="Liberation Sans" text-anchor="end" fill="#333" textLength="44.5" lengthAdjust="spacingAndGlyphs">EX. 26" OAK</text>
<text x="1216.5" y="924.1" font-size="8.2" font-family="Liberation Sans" text-anchor="end" fill="#333" textLength="63" lengthAdjust="spacingAndGlyphs">TO BE REMOVED;</text>
<text x="1216.5" y="933.5" font-size="8.2" font-family="Liberation Sans" text-anchor="end" fill="#333" textLength="142.5" lengthAdjust="spacingAndGlyphs">ROOTS &amp; LIMBS MAY CAUSE DAMAGE</text>
<text x="1216.5" y="942.9" font-size="8.2" font-family="Liberation Sans" text-anchor="end" fill="#333" textLength="107" lengthAdjust="spacingAndGlyphs">TO FOUNDATION OF PROPOSED</text>
<text x="1216.5" y="952.3" font-size="8.2" font-family="Liberation Sans" text-anchor="end" fill="#333" textLength="140" lengthAdjust="spacingAndGlyphs">RESIDENCE &amp; NEIGHBOR’S RESIDENCE</text>
<text x="1132.0" y="981.3" font-size="8.2" font-family="Liberation Sans" text-anchor="end" fill="#333" textLength="44.5" lengthAdjust="spacingAndGlyphs">EX. 26" OAK</text>
<text x="1132.0" y="990.7" font-size="8.2" font-family="Liberation Sans" text-anchor="end" fill="#333" textLength="63" lengthAdjust="spacingAndGlyphs">TO BE REMOVED;</text>
<text x="1132.0" y="1000.1" font-size="8.2" font-family="Liberation Sans" text-anchor="end" fill="#333" textLength="142.5" lengthAdjust="spacingAndGlyphs">ROOTS &amp; LIMBS MAY CAUSE DAMAGE</text>
<text x="1132.0" y="1009.5" font-size="8.2" font-family="Liberation Sans" text-anchor="end" fill="#333" textLength="107" lengthAdjust="spacingAndGlyphs">TO FOUNDATION OF PROPOSED</text>
<text x="1132.0" y="1018.9" font-size="8.2" font-family="Liberation Sans" text-anchor="end" fill="#333" textLength="140" lengthAdjust="spacingAndGlyphs">RESIDENCE &amp; NEIGHBOR’S RESIDENCE</text>
<path d="M756.5 521.2 L751 521.2 L694 607" stroke="#555" stroke-width="0.6" fill="none" marker-end="url(#arr)"/>
<path d="M756.5 544 L750.5 544 L735.7 590" stroke="#555" stroke-width="0.6" fill="none" marker-end="url(#arr)"/>
<path d="M1036.5 632.4 L1031.9 632.4 L1019.5 655" stroke="#555" stroke-width="0.6" fill="none" marker-end="url(#arr)"/>
<path d="M832 924 L678 971" stroke="#555" stroke-width="0.6" fill="none" marker-end="url(#arr)"/>
<path d="M832 1006 L697 999.5" stroke="#555" stroke-width="0.6" fill="none" marker-end="url(#arr)"/>
<path d="M927 978 L932 978 L965.5 1046" stroke="#555" stroke-width="0.6" fill="none" marker-end="url(#arr)"/>
<path d="M1217 937 L1222 937 L1253 1046" stroke="#555" stroke-width="0.6" fill="none" marker-end="url(#arr)"/>
<path d="M1133 1005 L1137 1005 L1158.5 1052" stroke="#555" stroke-width="0.6" fill="none" marker-end="url(#arr)"/>
<circle cx="1017.8" cy="657.5" r="3.4" fill="none" stroke="#666" stroke-width="0.8"/>
<path d="M1013.8 653.5 L1021.8 661.5 M1013.8 661.5 L1021.8 653.5" stroke="#555" stroke-width="0.8" fill="none" />
<text x="1026.0" y="664.5" font-size="8.4" font-family="Liberation Sans" fill="#333">(1)</text>
<circle cx="690.5" cy="612.2" r="3.4" fill="none" stroke="#666" stroke-width="0.8"/>
<path d="M686.5 608.2 L694.5 616.2 M686.5 616.2 L694.5 608.2" stroke="#555" stroke-width="0.8" fill="none" />
<text x="697.0" y="616.0" font-size="8.4" font-family="Liberation Sans" fill="#333">(2)</text>
<circle cx="733.4" cy="594" r="3.4" fill="none" stroke="#666" stroke-width="0.8"/>
<path d="M729.4 590 L737.4 598 M729.4 598 L737.4 590" stroke="#555" stroke-width="0.8" fill="none" />
<text x="740.5" y="598.0" font-size="8.4" font-family="Liberation Sans" fill="#333">(3)</text>
<circle cx="675" cy="973" r="3.4" fill="none" stroke="#666" stroke-width="0.8"/>
<path d="M671 969 L679 977 M671 977 L679 969" stroke="#555" stroke-width="0.8" fill="none" />
<text x="684.5" y="983.5" font-size="8.4" font-family="Liberation Sans" fill="#333">(4)</text>
<circle cx="693.7" cy="1000.6" r="3.4" fill="none" stroke="#666" stroke-width="0.8"/>
<path d="M689.7 996.6 L697.7 1004.6 M689.7 1004.6 L697.7 996.6" stroke="#555" stroke-width="0.8" fill="none" />
<text x="701.5" y="1013.0" font-size="8.4" font-family="Liberation Sans" fill="#333">(5)</text>
<circle cx="967.2" cy="1049.8" r="3.4" fill="none" stroke="#666" stroke-width="0.8"/>
<path d="M963.2 1045.8 L971.2 1053.8 M963.2 1053.8 L971.2 1045.8" stroke="#555" stroke-width="0.8" fill="none" />
<text x="948.5" y="1058.5" font-size="8.4" font-family="Liberation Sans" fill="#333">(6)</text>
<circle cx="1159.5" cy="1053" r="3.4" fill="none" stroke="#666" stroke-width="0.8"/>
<path d="M1155.5 1049 L1163.5 1057 M1155.5 1057 L1163.5 1049" stroke="#555" stroke-width="0.8" fill="none" />
<text x="1165.5" y="1056.5" font-size="8.4" font-family="Liberation Sans" fill="#333">(7)</text>
<circle cx="1253.5" cy="1047.8" r="3.4" fill="none" stroke="#666" stroke-width="0.8"/>
<path d="M1249.5 1043.8 L1257.5 1051.8 M1249.5 1051.8 L1257.5 1043.8" stroke="#555" stroke-width="0.8" fill="none" />
<text x="1259.5" y="1051.5" font-size="8.4" font-family="Liberation Sans" fill="#333">(8)</text>
<text x="1114.3" y="676.0" font-size="15.3" font-family="Liberation Sans" text-anchor="middle" fill="#111" textLength="50.5" lengthAdjust="spacingAndGlyphs">Unit # 1</text>
<text x="1114.3" y="792.5" font-size="15.3" font-family="Liberation Sans" text-anchor="middle" fill="#111" textLength="51" lengthAdjust="spacingAndGlyphs">Unit # 2</text>
<text x="1114.0" y="965.6" font-size="15.3" font-family="Liberation Sans" text-anchor="middle" fill="#111" textLength="50" lengthAdjust="spacingAndGlyphs">Unit # 3</text>
<text x="1048.7" y="820.3" font-size="13.4" font-family="Liberation Sans" text-anchor="middle" fill="#111" textLength="193" lengthAdjust="spacingAndGlyphs">Proposed 2-Story Condominium</text>
<text x="1053.0" y="835.2" font-size="10.5" font-family="Liberation Sans" text-anchor="middle" textLength="104.7" lengthAdjust="spacingAndGlyphs">Footprint:  5,308 s.f.</text>
<text x="1049.0" y="852.0" font-size="10.5" font-family="Liberation Sans" text-anchor="middle" textLength="118.7" lengthAdjust="spacingAndGlyphs">F.F.E. = 9.50 (NAVD 88)</text>
<text x="891.0" y="665.5" font-size="9.4" font-family="Liberation Sans" text-anchor="middle" fill="#333" textLength="27.5" lengthAdjust="spacingAndGlyphs">2-CAR</text>
<text x="891.0" y="676.0" font-size="9.4" font-family="Liberation Sans" text-anchor="middle" fill="#333" textLength="35" lengthAdjust="spacingAndGlyphs">GARAGE</text>
<text x="853.8" y="808.4" font-size="9.4" font-family="Liberation Sans" text-anchor="middle" fill="#333" textLength="27.5" lengthAdjust="spacingAndGlyphs">2-CAR</text>
<text x="853.8" y="818.9" font-size="9.4" font-family="Liberation Sans" text-anchor="middle" fill="#333" textLength="35" lengthAdjust="spacingAndGlyphs">GARAGE</text>
<text x="892.0" y="952.5" font-size="9.4" font-family="Liberation Sans" text-anchor="middle" fill="#333" textLength="27.5" lengthAdjust="spacingAndGlyphs">2-CAR</text>
<text x="892.0" y="963.0" font-size="9.4" font-family="Liberation Sans" text-anchor="middle" fill="#333" textLength="35" lengthAdjust="spacingAndGlyphs">GARAGE</text>
<text x="744.6" y="656.2" font-size="8.2" font-family="Liberation Sans" text-anchor="middle" fill="#333" textLength="24" lengthAdjust="spacingAndGlyphs">PAVER</text>
<text x="744.6" y="665.6" font-size="8.2" font-family="Liberation Sans" text-anchor="middle" fill="#333" textLength="38" lengthAdjust="spacingAndGlyphs">DRIVEWAY</text>
<text x="717.8" y="799.2" font-size="8.2" font-family="Liberation Sans" text-anchor="middle" fill="#333" textLength="24" lengthAdjust="spacingAndGlyphs">PAVER</text>
<text x="717.8" y="808.6" font-size="8.2" font-family="Liberation Sans" text-anchor="middle" fill="#333" textLength="38" lengthAdjust="spacingAndGlyphs">DRIVEWAY</text>
<text x="742.0" y="963.6" font-size="8.2" font-family="Liberation Sans" text-anchor="middle" fill="#333" textLength="24" lengthAdjust="spacingAndGlyphs">PAVER</text>
<text x="742.0" y="973.0" font-size="8.2" font-family="Liberation Sans" text-anchor="middle" fill="#333" textLength="38" lengthAdjust="spacingAndGlyphs">DRIVEWAY</text>
<text x="1320.6" y="650.8" font-size="8.5" font-family="Liberation Sans" text-anchor="middle" fill="#333" textLength="24.5" lengthAdjust="spacingAndGlyphs">ENTRY</text>
<text x="1320.6" y="661.0" font-size="8.5" font-family="Liberation Sans" text-anchor="middle" fill="#333" textLength="29" lengthAdjust="spacingAndGlyphs">PORCH</text>
<text x="1278.7" y="832.4" font-size="8.5" font-family="Liberation Sans" text-anchor="middle" fill="#333" textLength="24.5" lengthAdjust="spacingAndGlyphs">ENTRY</text>
<text x="1278.7" y="842.6" font-size="8.5" font-family="Liberation Sans" text-anchor="middle" fill="#333" textLength="29" lengthAdjust="spacingAndGlyphs">PORCH</text>
<text x="1317.0" y="978.9" font-size="8.5" font-family="Liberation Sans" text-anchor="middle" fill="#333" textLength="24.5" lengthAdjust="spacingAndGlyphs">ENTRY</text>
<text x="1317.0" y="989.1" font-size="8.5" font-family="Liberation Sans" text-anchor="middle" fill="#333" textLength="29" lengthAdjust="spacingAndGlyphs">PORCH</text>
<text x="1371.0" y="652.3" font-size="5.6" font-family="Liberation Sans" fill="#333" textLength="37.5" lengthAdjust="spacingAndGlyphs">PAVER WALK</text>
<text x="1321.9" y="828.3" font-size="5.6" font-family="Liberation Sans" fill="#333" textLength="37.5" lengthAdjust="spacingAndGlyphs">PAVER WALK</text>
<text x="1373.4" y="979.8" font-size="5.6" font-family="Liberation Sans" fill="#333" textLength="37.5" lengthAdjust="spacingAndGlyphs">PAVER WALK</text>
<path d="M575.6 556 L674.3 556" stroke="#222" stroke-width="0.8" fill="none" marker-start="url(#arr)" marker-end="url(#arr)"/>
<text x="624.5" y="553.0" font-size="8" font-family="Liberation Sans" text-anchor="middle" fill="#333">15'</text>
<text x="624.5" y="564.6" font-size="7.6" font-family="Liberation Sans" text-anchor="middle" fill="#333" textLength="20.5" lengthAdjust="spacingAndGlyphs">ALLEY</text>
<path d="M674 736 L773 736" stroke="#222" stroke-width="0.8" fill="none" marker-start="url(#arr)" marker-end="url(#arr)"/>
<text x="723.5" y="732.8" font-size="8" font-family="Liberation Sans" text-anchor="middle" fill="#333">15'</text>
<path d="M814 562 L814 595" stroke="#222" stroke-width="0.8" fill="none" marker-start="url(#arr)" marker-end="url(#arr)"/>
<text x="810.3" y="581.5" font-size="8.5" font-family="Liberation Sans" fill="#333" transform="rotate(-90 810.3 581.5)">5'</text>
<path d="M1347.8 565 L1347.8 596" stroke="#222" stroke-width="0.8" fill="none" marker-start="url(#arr)" marker-end="url(#arr)"/>
<text x="1345.2" y="583.5" font-size="8.5" font-family="Liberation Sans" fill="#333" transform="rotate(-90 1345.2 583.5)">5'</text>
<path d="M1348 597.8 L1480 597.8" stroke="#222" stroke-width="0.8" fill="none" marker-start="url(#arr)" marker-end="url(#arr)"/>
<text x="1414.0" y="595.0" font-size="8.3" font-family="Liberation Sans" text-anchor="middle" textLength="22" lengthAdjust="spacingAndGlyphs">20.05'</text>
<path d="M811.6 1028 L811.6 1060" stroke="#222" stroke-width="0.8" fill="none" marker-start="url(#arr)" marker-end="url(#arr)"/>
<text x="809.6" y="1047.8" font-size="8.5" font-family="Liberation Sans" fill="#333" transform="rotate(-90 809.6 1047.8)">5'</text>
<path d="M1345.4 1032 L1345.4 1063" stroke="#222" stroke-width="0.8" fill="none" marker-start="url(#arr)" marker-end="url(#arr)"/>
<text x="1342.6" y="1050.8" font-size="8.5" font-family="Liberation Sans" fill="#333" transform="rotate(-90 1342.6 1050.8)">5'</text>
<path d="M1346 1031 L1477 1031" stroke="#222" stroke-width="0.8" fill="none" marker-start="url(#arr)" marker-end="url(#arr)"/>
<text x="1411.0" y="1040.5" font-size="8.3" font-family="Liberation Sans" text-anchor="middle" textLength="22" lengthAdjust="spacingAndGlyphs">19.91'</text>
<text x="1144.8" y="557.5" font-size="8.6" font-family="Liberation Sans" textLength="73.5" lengthAdjust="spacingAndGlyphs">N89°42'18"W 121.00'</text>
<text x="1181.0" y="1075.2" font-size="8.6" font-family="Liberation Sans" text-anchor="middle" textLength="73.5" lengthAdjust="spacingAndGlyphs">N89°42'18"W 121.00'</text>
<text x="656.0" y="869.0" font-size="8.6" font-family="Liberation Sans" textLength="73.3" lengthAdjust="spacingAndGlyphs" transform="rotate(-90 656.0 869.0)">S00°24'55"W 75.00'</text>
<text x="1490.5" y="865.6" font-size="8.6" font-family="Liberation Sans" textLength="75" lengthAdjust="spacingAndGlyphs" transform="rotate(-90 1490.5 865.6)">S00°24'55"W 75.00'</text>
<path d="M652.8 795 L652.8 790.5 L672.3 762.5" stroke="#555" stroke-width="0.6" fill="none" marker-end="url(#arr)"/>
<text x="685.0" y="673.0" font-size="7.8" font-family="Liberation Sans" fill="#333" textLength="38" lengthAdjust="spacingAndGlyphs" transform="rotate(-90 685.0 673.0)">SI/2 LOT 2</text>
<text x="694.6" y="658.5" font-size="7.8" font-family="Liberation Sans" fill="#333" transform="rotate(-90 694.6 658.5)">25'</text>
<text x="683.0" y="963.0" font-size="7.8" font-family="Liberation Sans" fill="#333" textLength="20" lengthAdjust="spacingAndGlyphs" transform="rotate(-90 683.0 963.0)">LOT 3</text>
<text x="691.5" y="957.0" font-size="7.8" font-family="Liberation Sans" fill="#333" transform="rotate(-90 691.5 957.0)">50'</text>
<rect x="1125.3" y="484.4" width="61.4" height="39.5" stroke="#777" stroke-width="0.8" fill="#fff" />
<text x="1156.6" y="506.2" font-size="5.8" font-family="Liberation Sans" text-anchor="middle" fill="#666">SHED</text>
<text x="1124.5" y="532.0" font-size="5.6" font-family="Liberation Sans" text-anchor="middle" fill="#999">PAVERS</text>
<path d="M703.75 1092.8 L850.6 1094 M850.6 1160 L850.6 1075.6 L903.75 1075 L939.7 1085 L991 1083 L1008.4 1095 L1356.5 1095.5 M1008.4 1095 L1008.4 1161.6" stroke="#777" stroke-width="0.7" fill="none" />
<polygon points="1356.5,1092 1401.4,1092 1401.4,1165 1396.3,1165 1396.3,1097.2 1356.5,1097.2" fill="url(#herr)" stroke="none"/>
<path d="M1356.5 1095.5 L1356.5 1164.7 M1356.5 1092 L1401.4 1092 L1401.4 1165 M1356.5 1097.2 L1396.3 1097.2 L1396.3 1165" stroke="#777" stroke-width="0.7" fill="none" />
<text x="1380.8" y="1097.0" font-size="5.4" font-family="Liberation Sans" text-anchor="middle" fill="#aaa">PAVERS</text>
<text x="1376.2" y="1103.3" font-size="5.6" font-family="Liberation Sans" text-anchor="middle" fill="#777">PORCH</text>
<text x="1201.0" y="1101.5" font-size="5.2" font-family="Liberation Sans" text-anchor="middle" fill="#777">BUILDING</text>
<line x1="1304.7" y1="1065" x2="1304.7" y2="1094" stroke="#888" stroke-width="0.6" stroke-dasharray="6 2 1 2"/>
<path d="M703.75 1090 L703.75 1061 M659 1090 L703.75 1090" stroke="#888" stroke-width="0.6" fill="none" />
<rect x="1014.7" y="1068.75" width="23.3" height="24" stroke="#777" stroke-width="0.8" fill="none" />
<text x="1026.3" y="1084.0" font-size="5" font-family="Liberation Sans" text-anchor="middle" fill="#555">A/C</text>
<text x="777.8" y="1123.6" font-size="7.2" font-family="Liberation Sans" text-anchor="middle" fill="#333" textLength="84" lengthAdjust="spacingAndGlyphs">GARAGE FLOOR EL.=9.1'</text>
<text x="1457.0" y="1133.0" font-size="5.4" font-family="Liberation Sans" text-anchor="end" font-weight="bold" textLength="33" lengthAdjust="spacingAndGlyphs">EXIST. FIRE</text>
<text x="1457.0" y="1139.8" font-size="5.4" font-family="Liberation Sans" text-anchor="end" font-weight="bold" textLength="27" lengthAdjust="spacingAndGlyphs">HYDRANT</text>
<path d="M1461 1130 L1465 1134 L1471 1134 L1475 1130 M1461 1138 L1465 1134 M1475 1138 L1471 1134 M1468 1131 L1468 1137" stroke="#222" stroke-width="1" fill="none" />
<circle cx="1468" cy="1134" r="2" fill="none" stroke="#222" stroke-width="0.9"/>
<line x1="1473" y1="1082" x2="1473" y2="1165" stroke="#777" stroke-width="0.6" stroke-dasharray="10 2 1.5 2"/>
<text x="212.5" y="63.5" font-size="18.5" font-family="Liberation Sans" fill="#111" textLength="140.5" lengthAdjust="spacingAndGlyphs">EX. TREE CHART</text>
<line x1="210" y1="67.2" x2="557" y2="67.2" stroke="#222" stroke-width="1.5" />
<line x1="214.5" y1="73.3" x2="550.7" y2="73.3" stroke="#444" stroke-width="1" />
<line x1="214.5" y1="73" x2="214.5" y2="196.2" stroke="#444" stroke-width="0.9" />
<line x1="250.5" y1="73.3" x2="250.5" y2="107.8" stroke="#444" stroke-width="0.9" />
<line x1="299.8" y1="73.3" x2="299.8" y2="107.8" stroke="#444" stroke-width="0.9" />
<line x1="358.4" y1="73.3" x2="358.4" y2="107.8" stroke="#444" stroke-width="0.9" />
<line x1="433.5" y1="73.3" x2="433.5" y2="107.8" stroke="#444" stroke-width="0.9" />
<line x1="488.4" y1="73.3" x2="488.4" y2="107.8" stroke="#444" stroke-width="0.9" />
<line x1="214.5" y1="107.8" x2="550.7" y2="107.8" stroke="#333" stroke-width="1.1" />
<line x1="214.5" y1="119" x2="550.7" y2="119" stroke="#333" stroke-width="1.1" />
<line x1="214.5" y1="130.2" x2="550.7" y2="130.2" stroke="#333" stroke-width="1.1" />
<line x1="214.5" y1="141.2" x2="550.7" y2="141.2" stroke="#666" stroke-width="0.8" />
<line x1="214.5" y1="152.3" x2="550.7" y2="152.3" stroke="#666" stroke-width="0.8" />
<line x1="214.5" y1="163.3" x2="550.7" y2="163.3" stroke="#666" stroke-width="0.8" />
<line x1="214.5" y1="174.3" x2="550.7" y2="174.3" stroke="#333" stroke-width="1.1" />
<line x1="214.5" y1="185.5" x2="550.7" y2="185.5" stroke="#333" stroke-width="1.1" />
<line x1="214.5" y1="196.1" x2="550.7" y2="196.1" stroke="#666" stroke-width="0.8" />
<text x="233.0" y="93.0" font-size="6.2" font-family="Liberation Sans" text-anchor="middle" font-weight="bold">TAG#</text>
<text x="275.5" y="93.0" font-size="6.2" font-family="Liberation Sans" text-anchor="middle" font-weight="bold">DBH</text>
<text x="329.0" y="93.0" font-size="6.2" font-family="Liberation Sans" text-anchor="middle" font-weight="bold">SPECIES</text>
<text x="395.6" y="93.0" font-size="6.2" font-family="Liberation Sans" text-anchor="middle" font-weight="bold">STATUS</text>
<text x="461.0" y="82.3" font-size="6.2" font-family="Liberation Sans" text-anchor="middle" font-weight="bold">REQUIRED</text>
<text x="461.0" y="93.2" font-size="6.2" font-family="Liberation Sans" text-anchor="middle" font-weight="bold">PALM</text>
<text x="461.0" y="104.0" font-size="6.2" font-family="Liberation Sans" text-anchor="middle" font-weight="bold">MITIGATION</text>
<text x="519.8" y="87.6" font-size="6.2" font-family="Liberation Sans" text-anchor="middle" font-weight="bold">INCHES REQ. FOR</text>
<text x="519.8" y="98.6" font-size="6.2" font-family="Liberation Sans" text-anchor="middle" font-weight="bold">MITIGATION</text>
<text x="233.0" y="116.1" font-size="6.8" font-family="Liberation Sans" text-anchor="middle" fill="#333">1</text>
<text x="275.5" y="116.1" font-size="6.8" font-family="Liberation Sans" text-anchor="middle" fill="#333">21"</text>
<text x="329.0" y="116.1" font-size="6.8" font-family="Liberation Sans" text-anchor="middle" fill="#333" textLength="37.35" lengthAdjust="spacingAndGlyphs">SAPODILLA</text>
<text x="396.0" y="116.1" font-size="6.8" font-family="Liberation Sans" text-anchor="middle" fill="#333" textLength="69" lengthAdjust="spacingAndGlyphs">REMOVE (INVASIVE)</text>
<text x="233.0" y="127.3" font-size="6.8" font-family="Liberation Sans" text-anchor="middle" fill="#333">2</text>
<text x="275.5" y="127.3" font-size="6.8" font-family="Liberation Sans" text-anchor="middle" fill="#333">13'</text>
<text x="329.0" y="127.3" font-size="6.8" font-family="Liberation Sans" text-anchor="middle" fill="#333" textLength="41.5" lengthAdjust="spacingAndGlyphs">SABAL PALM</text>
<text x="395.6" y="127.3" font-size="6.8" font-family="Liberation Sans" text-anchor="middle" fill="#333" textLength="28.5" lengthAdjust="spacingAndGlyphs">REMOVE</text>
<text x="461.0" y="127.3" font-size="6.8" font-family="Liberation Sans" text-anchor="middle" fill="#333">1</text>
<text x="233.0" y="138.5" font-size="6.8" font-family="Liberation Sans" text-anchor="middle" fill="#333">3</text>
<text x="275.5" y="138.5" font-size="6.8" font-family="Liberation Sans" text-anchor="middle" fill="#333">20'</text>
<text x="329.0" y="138.5" font-size="6.8" font-family="Liberation Sans" text-anchor="middle" fill="#333" textLength="41.5" lengthAdjust="spacingAndGlyphs">SABAL PALM</text>
<text x="395.6" y="138.5" font-size="6.8" font-family="Liberation Sans" text-anchor="middle" fill="#333" textLength="28.5" lengthAdjust="spacingAndGlyphs">REMOVE</text>
<text x="461.0" y="138.5" font-size="6.8" font-family="Liberation Sans" text-anchor="middle" fill="#333">1</text>
<text x="233.0" y="149.5" font-size="6.8" font-family="Liberation Sans" text-anchor="middle" fill="#333">4</text>
<text x="275.5" y="149.5" font-size="6.8" font-family="Liberation Sans" text-anchor="middle" fill="#333">22"</text>
<text x="329.0" y="149.5" font-size="6.8" font-family="Liberation Sans" text-anchor="middle" fill="#333" textLength="33.2" lengthAdjust="spacingAndGlyphs">LIVE OAK</text>
<text x="395.6" y="149.5" font-size="6.8" font-family="Liberation Sans" text-anchor="middle" fill="#333" textLength="28.5" lengthAdjust="spacingAndGlyphs">REMOVE</text>
<text x="519.8" y="149.5" font-size="6.8" font-family="Liberation Sans" text-anchor="middle" fill="#333">55</text>
<text x="233.0" y="160.6" font-size="6.8" font-family="Liberation Sans" text-anchor="middle" fill="#333">5</text>
<text x="275.5" y="160.6" font-size="6.8" font-family="Liberation Sans" text-anchor="middle" fill="#333">13'</text>
<text x="329.0" y="160.6" font-size="6.8" font-family="Liberation Sans" text-anchor="middle" fill="#333" textLength="41.5" lengthAdjust="spacingAndGlyphs">SABAL PALM</text>
<text x="395.6" y="160.6" font-size="6.8" font-family="Liberation Sans" text-anchor="middle" fill="#333" textLength="28.5" lengthAdjust="spacingAndGlyphs">REMOVE</text>
<text x="461.0" y="160.6" font-size="6.8" font-family="Liberation Sans" text-anchor="middle" fill="#333">1</text>
<text x="233.0" y="171.6" font-size="6.8" font-family="Liberation Sans" text-anchor="middle" fill="#333">6</text>
<text x="275.5" y="171.6" font-size="6.8" font-family="Liberation Sans" text-anchor="middle" fill="#333">13.5"</text>
<text x="329.0" y="171.6" font-size="6.8" font-family="Liberation Sans" text-anchor="middle" fill="#333" textLength="20.75" lengthAdjust="spacingAndGlyphs">HOLLY</text>
<text x="395.6" y="171.6" font-size="6.8" font-family="Liberation Sans" text-anchor="middle" fill="#333" textLength="28.5" lengthAdjust="spacingAndGlyphs">REMOVE</text>
<text x="519.8" y="171.6" font-size="6.8" font-family="Liberation Sans" text-anchor="middle" fill="#333">33.75</text>
<text x="233.0" y="182.6" font-size="6.8" font-family="Liberation Sans" text-anchor="middle" fill="#333">7</text>
<text x="275.5" y="182.6" font-size="6.8" font-family="Liberation Sans" text-anchor="middle" fill="#333">26"</text>
<text x="329.0" y="182.6" font-size="6.8" font-family="Liberation Sans" text-anchor="middle" fill="#333" textLength="33.2" lengthAdjust="spacingAndGlyphs">LIVE OAK</text>
<text x="360.0" y="182.6" font-size="6.8" font-family="Liberation Sans" fill="#333" textLength="187" lengthAdjust="spacingAndGlyphs">REMOVE (DANGER TO SUBJECT PROPERTY &amp; NEIGHBOR)</text>
<text x="233.0" y="193.8" font-size="6.8" font-family="Liberation Sans" text-anchor="middle" fill="#333">8</text>
<text x="275.5" y="193.8" font-size="6.8" font-family="Liberation Sans" text-anchor="middle" fill="#333">26"</text>
<text x="329.0" y="193.8" font-size="6.8" font-family="Liberation Sans" text-anchor="middle" fill="#333" textLength="33.2" lengthAdjust="spacingAndGlyphs">LIVE OAK</text>
<text x="360.0" y="193.8" font-size="6.8" font-family="Liberation Sans" fill="#333" textLength="187" lengthAdjust="spacingAndGlyphs">REMOVE (DANGER TO SUBJECT PROPERTY &amp; NEIGHBOR)</text>
<text x="589.0" y="63.3" font-size="18.5" font-family="Liberation Sans" fill="#111" textLength="128" lengthAdjust="spacingAndGlyphs">EX. TREE DATA</text>
<line x1="587" y1="66.8" x2="888" y2="66.8" stroke="#222" stroke-width="1.5" />
<text x="594.3" y="83.2" font-size="6.9" font-family="Liberation Sans" font-weight="bold" textLength="202" lengthAdjust="spacingAndGlyphs">Total Replacement Live Oak Tree inches Required (22 X 2.5):</text>
<text x="851.5" y="82.6" font-size="6.9" font-family="Liberation Sans" text-anchor="middle" font-weight="bold">55</text>
<text x="594.3" y="99.1" font-size="6.9" font-family="Liberation Sans" font-weight="bold" textLength="226" lengthAdjust="spacingAndGlyphs">Total Replacement Oak Tree Inches Provided as Green Buttonwood</text>
<text x="594.3" y="109.9" font-size="6.9" font-family="Liberation Sans" font-weight="bold" textLength="162" lengthAdjust="spacingAndGlyphs">due to space constraints &amp; adjacent powerlines:</text>
<text x="851.5" y="104.4" font-size="6.9" font-family="Liberation Sans" text-anchor="middle" font-weight="bold">18</text>
<text x="594.3" y="128.2" font-size="6.9" font-family="Liberation Sans" font-weight="bold" textLength="224" lengthAdjust="spacingAndGlyphs">Remaining inches to be provided by contribution to City tree fund:</text>
<text x="851.5" y="128.2" font-size="6.9" font-family="Liberation Sans" text-anchor="middle" font-weight="bold">37</text>
<text x="594.3" y="160.4" font-size="6.9" font-family="Liberation Sans" font-weight="bold" textLength="197" lengthAdjust="spacingAndGlyphs">Total Replacement Holly Tree inches Required (13.5 X 2.5):</text>
<text x="851.5" y="160.4" font-size="6.9" font-family="Liberation Sans" text-anchor="middle" font-weight="bold">33.75</text>
<text x="594.3" y="175.2" font-size="6.9" font-family="Liberation Sans" font-weight="bold" textLength="157" lengthAdjust="spacingAndGlyphs">Total Replacement Holly Tree Inches Provided:</text>
<text x="851.5" y="175.2" font-size="6.9" font-family="Liberation Sans" text-anchor="middle" font-weight="bold">18</text>
<text x="594.3" y="194.9" font-size="6.9" font-family="Liberation Sans" font-weight="bold" textLength="224" lengthAdjust="spacingAndGlyphs">Remaining inches to be provided by contribution to City tree fund:</text>
<text x="851.5" y="194.9" font-size="6.9" font-family="Liberation Sans" text-anchor="middle" font-weight="bold">15.75</text>
<path d="M578.1 214.6 L578.9 213.8 L579.7 213.1 L580.6 212.5 L581.5 212.0 L582.5 211.7 L583.4 211.4 L584.4 211.3 L585.3 211.3 L586.2 211.4 L587.1 211.6 L587.9 211.9 L588.7 212.2 L589.4 212.7 L590.1 213.1 L590.7 213.7 L591.2 214.3 L590.6 214.9 L590.1 214.4 L589.5 214.0 L588.9 213.7 L588.3 213.4 L587.6 213.3 L587.0 213.2 L586.3 213.1 L585.6 213.2 L584.9 213.3 L584.3 213.6 L583.7 213.9 L583.1 214.2 L582.5 214.6 L582.1 215.1 L581.6 215.7 L581.3 216.3Z M588.3 213.1 L589.9 210.8 L591.8 208.8 L593.8 207.0 L596.0 205.5 L598.4 204.3 L600.8 203.3 L603.4 202.7 L605.9 202.3 L608.5 202.3 L611.0 202.5 L613.5 203.0 L615.9 203.8 L618.2 204.8 L620.3 206.1 L622.3 207.6 L624.0 209.3 L623.4 209.9 L621.7 208.3 L619.7 207.0 L617.7 205.9 L615.5 205.0 L613.2 204.4 L610.9 204.1 L608.6 204.0 L606.2 204.2 L603.9 204.7 L601.7 205.5 L599.6 206.5 L597.6 207.7 L595.8 209.2 L594.1 210.9 L592.7 212.7 L591.5 214.8Z M621.4 207.6 L623.5 205.6 L625.9 203.9 L628.3 202.4 L630.9 201.3 L633.6 200.5 L636.3 200.0 L639.1 199.8 L641.8 200.0 L644.5 200.4 L647.1 201.1 L649.6 202.2 L651.9 203.5 L654.1 205.0 L656.0 206.8 L657.8 208.7 L659.3 210.8 L658.5 211.3 L657.0 209.3 L655.3 207.5 L653.4 205.9 L651.3 204.6 L649.0 203.5 L646.7 202.7 L644.2 202.1 L641.8 201.9 L639.3 201.9 L636.8 202.3 L634.4 202.9 L632.0 203.8 L629.8 204.9 L627.8 206.3 L625.9 208.0 L624.2 209.8Z M656.5 209.2 L658.5 207.2 L660.7 205.4 L663.0 204.0 L665.5 202.8 L668.0 201.9 L670.6 201.3 L673.3 201.0 L675.9 201.1 L678.5 201.4 L681.0 202.0 L683.4 202.9 L685.7 204.0 L687.8 205.4 L689.8 207.0 L691.5 208.8 L693.1 210.8 L692.4 211.3 L690.8 209.5 L689.1 207.8 L687.2 206.4 L685.1 205.2 L682.9 204.2 L680.6 203.5 L678.3 203.1 L675.9 203.0 L673.5 203.1 L671.2 203.5 L668.9 204.2 L666.7 205.2 L664.6 206.4 L662.7 207.8 L661.0 209.5 L659.4 211.3Z M690.3 209.3 L692.3 207.1 L694.5 205.1 L697.0 203.5 L699.5 202.1 L702.2 201.1 L705.0 200.4 L707.8 200.0 L710.6 200.0 L713.4 200.2 L716.1 200.8 L718.7 201.7 L721.2 202.8 L723.5 204.2 L725.6 205.9 L727.6 207.7 L729.3 209.8 L728.6 210.3 L726.9 208.4 L725.0 206.7 L722.9 205.2 L720.6 204.0 L718.2 203.0 L715.8 202.3 L713.2 202.0 L710.7 201.9 L708.1 202.1 L705.6 202.6 L703.2 203.4 L700.8 204.5 L698.6 205.9 L696.6 207.5 L694.8 209.3 L693.3 211.3Z M726.6 208.1 L728.6 206.2 L730.9 204.5 L733.2 203.1 L735.7 201.9 L738.3 201.1 L741.0 200.6 L743.6 200.4 L746.3 200.5 L748.9 200.9 L751.4 201.6 L753.8 202.6 L756.1 203.8 L758.2 205.3 L760.1 206.9 L761.8 208.8 L763.3 210.8 L762.5 211.3 L761.1 209.4 L759.4 207.7 L757.5 206.2 L755.5 204.9 L753.3 203.9 L751.0 203.1 L748.6 202.6 L746.2 202.4 L743.8 202.5 L741.4 202.9 L739.1 203.5 L736.9 204.4 L734.8 205.5 L732.8 206.9 L731.0 208.5 L729.4 210.3Z M761.1 208.6 L763.5 207.2 L766.1 206.1 L768.7 205.3 L771.4 204.8 L774.1 204.6 L776.8 204.7 L779.4 205.2 L781.9 205.9 L784.4 206.9 L786.6 208.2 L788.7 209.7 L790.6 211.4 L792.3 213.3 L793.7 215.4 L795.0 217.6 L795.9 219.9 L795.1 220.2 L794.1 218.0 L792.9 216.0 L791.4 214.1 L789.7 212.4 L787.9 210.8 L785.9 209.6 L783.7 208.5 L781.4 207.8 L779.1 207.3 L776.7 207.0 L774.3 207.1 L772.0 207.4 L769.6 208.1 L767.4 208.9 L765.3 210.1 L763.3 211.4Z M793.4 217.9 L795.8 216.0 L798.3 214.4 L801.0 213.2 L803.8 212.3 L806.7 211.7 L809.6 211.4 L812.4 211.5 L815.3 211.9 L818.0 212.6 L820.6 213.7 L823.1 214.9 L825.4 216.5 L827.4 218.3 L829.3 220.3 L830.9 222.5 L832.3 224.8 L831.5 225.3 L830.1 223.0 L828.5 221.0 L826.7 219.2 L824.6 217.6 L822.4 216.2 L820.0 215.1 L817.5 214.3 L815.0 213.8 L812.4 213.6 L809.8 213.7 L807.2 214.1 L804.7 214.8 L802.3 215.8 L800.0 217.1 L797.9 218.6 L796.0 220.4Z M829.8 222.9 L832.4 220.7 L835.3 218.8 L838.4 217.2 L841.6 216.1 L844.9 215.3 L848.3 214.9 L851.6 214.9 L854.9 215.2 L858.1 216.0 L861.2 217.1 L864.2 218.5 L866.9 220.3 L869.4 222.3 L871.6 224.6 L873.6 227.1 L875.3 229.8 L874.5 230.3 L872.8 227.7 L870.9 225.3 L868.6 223.2 L866.2 221.3 L863.5 219.8 L860.7 218.6 L857.7 217.7 L854.7 217.2 L851.6 217.0 L848.6 217.2 L845.5 217.7 L842.6 218.6 L839.7 219.8 L837.1 221.4 L834.6 223.2 L832.4 225.4Z M872.5 228.3 L874.5 226.0 L876.8 224.1 L879.2 222.4 L881.8 221.1 L884.5 220.0 L887.3 219.3 L890.1 218.9 L893.0 218.9 L895.8 219.1 L898.5 219.7 L901.1 220.6 L903.6 221.7 L905.9 223.2 L908.1 224.8 L910.0 226.7 L911.8 228.8 L911.1 229.3 L909.4 227.4 L907.4 225.7 L905.3 224.2 L903.1 222.9 L900.7 221.9 L898.2 221.3 L895.6 220.9 L893.0 220.8 L890.4 221.0 L887.9 221.5 L885.4 222.4 L883.1 223.5 L880.9 224.8 L878.9 226.4 L877.0 228.3 L875.5 230.3Z M909.3 226.9 L911.6 225.0 L914.1 223.4 L916.7 222.1 L919.5 221.1 L922.3 220.4 L925.2 220.1 L928.1 220.1 L930.9 220.4 L933.7 221.0 L936.3 222.0 L938.8 223.2 L941.1 224.7 L943.3 226.4 L945.2 228.4 L946.9 230.5 L948.3 232.8 L947.5 233.3 L946.1 231.1 L944.4 229.1 L942.5 227.3 L940.4 225.8 L938.2 224.5 L935.8 223.5 L933.3 222.7 L930.7 222.3 L928.1 222.2 L925.5 222.3 L922.9 222.8 L920.5 223.6 L918.1 224.6 L915.8 226.0 L913.8 227.6 L911.9 229.4Z M945.5 231.2 L947.6 229.1 L949.8 227.3 L952.2 225.8 L954.7 224.6 L957.4 223.6 L960.1 223.0 L962.8 222.7 L965.5 222.8 L968.2 223.1 L970.8 223.7 L973.3 224.6 L975.6 225.8 L977.8 227.2 L979.9 228.9 L981.7 230.8 L983.3 232.8 L982.6 233.3 L981.0 231.4 L979.2 229.7 L977.2 228.2 L975.1 227.0 L972.8 226.0 L970.4 225.3 L968.0 224.8 L965.5 224.7 L963.0 224.8 L960.6 225.3 L958.2 226.0 L955.9 227.0 L953.8 228.2 L951.8 229.7 L950.0 231.4 L948.4 233.3Z M980.5 231.3 L982.4 229.2 L984.4 227.5 L986.7 226.0 L989.0 224.7 L991.5 223.8 L994.1 223.2 L996.6 222.8 L999.2 222.8 L1001.7 223.0 L1004.2 223.5 L1006.6 224.3 L1008.9 225.4 L1011.0 226.7 L1012.9 228.2 L1014.7 229.9 L1016.3 231.8 L1015.6 232.3 L1014.0 230.6 L1012.3 229.0 L1010.4 227.7 L1008.3 226.6 L1006.2 225.7 L1003.9 225.1 L1001.6 224.8 L999.3 224.7 L996.9 224.9 L994.7 225.4 L992.4 226.1 L990.3 227.1 L988.3 228.3 L986.5 229.8 L984.9 231.5 L983.5 233.3Z M1013.4 230.4 L1015.2 228.3 L1017.2 226.5 L1019.4 224.9 L1021.7 223.6 L1024.1 222.6 L1026.6 221.9 L1029.2 221.5 L1031.7 221.4 L1034.2 221.5 L1036.7 222.0 L1039.1 222.7 L1041.4 223.7 L1043.5 224.9 L1045.5 226.3 L1047.3 228.0 L1048.9 229.8 L1048.2 230.4 L1046.6 228.7 L1044.8 227.2 L1042.9 225.9 L1040.8 224.9 L1038.7 224.1 L1036.4 223.5 L1034.1 223.3 L1031.8 223.3 L1029.5 223.6 L1027.3 224.1 L1025.1 224.9 L1023.1 226.0 L1021.1 227.2 L1019.4 228.7 L1017.8 230.4 L1016.5 232.3Z M1046.1 228.2 L1048.2 226.0 L1050.4 224.1 L1052.9 222.5 L1055.5 221.2 L1058.2 220.2 L1061.0 219.5 L1063.8 219.2 L1066.7 219.2 L1069.4 219.5 L1072.2 220.1 L1074.8 221.0 L1077.2 222.2 L1079.5 223.6 L1081.7 225.3 L1083.6 227.2 L1085.3 229.3 L1084.6 229.8 L1082.9 227.9 L1081.0 226.1 L1078.9 224.6 L1076.7 223.3 L1074.3 222.3 L1071.8 221.6 L1069.3 221.2 L1066.7 221.1 L1064.1 221.3 L1061.6 221.7 L1059.1 222.5 L1056.8 223.6 L1054.5 224.9 L1052.5 226.5 L1050.7 228.3 L1049.0 230.3Z M1082.5 227.7 L1084.5 225.6 L1086.7 223.8 L1089.1 222.2 L1091.6 221.0 L1094.2 220.0 L1096.9 219.4 L1099.6 219.0 L1102.4 219.0 L1105.0 219.3 L1107.7 219.9 L1110.2 220.8 L1112.5 221.9 L1114.8 223.3 L1116.8 225.0 L1118.6 226.8 L1120.3 228.8 L1119.6 229.3 L1118.0 227.4 L1116.1 225.8 L1114.1 224.3 L1112.0 223.1 L1109.7 222.1 L1107.3 221.4 L1104.9 221.0 L1102.4 220.9 L1099.9 221.1 L1097.5 221.6 L1095.1 222.3 L1092.9 223.4 L1090.7 224.6 L1088.8 226.1 L1087.0 227.9 L1085.4 229.8Z M1117.6 227.2 L1119.7 225.0 L1122.0 223.2 L1124.6 221.6 L1127.2 220.3 L1130.0 219.4 L1132.8 218.8 L1135.7 218.5 L1138.5 218.6 L1141.3 219.0 L1144.0 219.6 L1146.6 220.6 L1149.1 221.9 L1151.4 223.4 L1153.5 225.2 L1155.3 227.1 L1157.0 229.3 L1156.3 229.8 L1154.6 227.8 L1152.8 226.0 L1150.7 224.4 L1148.5 223.0 L1146.1 222.0 L1143.6 221.2 L1141.1 220.7 L1138.5 220.5 L1135.9 220.6 L1133.3 221.0 L1130.8 221.8 L1128.4 222.8 L1126.1 224.0 L1124.0 225.6 L1122.1 227.3 L1120.4 229.3Z M1154.2 227.7 L1156.3 225.5 L1158.7 223.5 L1161.2 221.8 L1163.9 220.4 L1166.7 219.4 L1169.6 218.7 L1172.5 218.3 L1175.5 218.3 L1178.3 218.6 L1181.2 219.2 L1183.9 220.2 L1186.4 221.4 L1188.8 222.9 L1191.0 224.7 L1193.0 226.6 L1194.8 228.8 L1194.1 229.3 L1192.3 227.3 L1190.4 225.5 L1188.2 223.9 L1185.9 222.6 L1183.4 221.5 L1180.8 220.8 L1178.2 220.3 L1175.5 220.2 L1172.8 220.4 L1170.2 220.9 L1167.6 221.7 L1165.2 222.8 L1162.9 224.2 L1160.7 225.9 L1158.8 227.7 L1157.1 229.8Z M1192.0 227.2 L1194.1 225.0 L1196.4 223.2 L1198.9 221.6 L1201.5 220.3 L1204.3 219.3 L1207.1 218.7 L1209.9 218.4 L1212.8 218.4 L1215.5 218.7 L1218.2 219.4 L1220.9 220.3 L1223.3 221.5 L1225.6 223.0 L1227.7 224.7 L1229.6 226.7 L1231.3 228.8 L1230.6 229.3 L1228.9 227.3 L1227.0 225.5 L1225.0 224.0 L1222.7 222.7 L1220.4 221.7 L1217.9 220.9 L1215.3 220.5 L1212.8 220.3 L1210.2 220.5 L1207.6 220.9 L1205.1 221.7 L1202.8 222.7 L1200.5 224.0 L1198.5 225.5 L1196.6 227.3 L1194.9 229.3Z M1228.5 227.2 L1230.6 225.1 L1232.8 223.3 L1235.2 221.8 L1237.7 220.6 L1240.4 219.6 L1243.1 219.0 L1245.8 218.7 L1248.5 218.8 L1251.2 219.1 L1253.8 219.7 L1256.3 220.6 L1258.6 221.8 L1260.8 223.2 L1262.9 224.9 L1264.7 226.8 L1266.3 228.8 L1265.6 229.3 L1264.0 227.4 L1262.2 225.7 L1260.2 224.2 L1258.1 223.0 L1255.8 222.0 L1253.4 221.3 L1251.0 220.8 L1248.5 220.7 L1246.0 220.8 L1243.6 221.3 L1241.2 222.0 L1238.9 223.0 L1236.8 224.2 L1234.8 225.7 L1233.0 227.4 L1231.4 229.3Z M1263.5 227.2 L1265.6 225.0 L1267.9 223.2 L1270.4 221.6 L1273.0 220.3 L1275.8 219.3 L1278.6 218.7 L1281.4 218.4 L1284.2 218.4 L1287.0 218.7 L1289.7 219.4 L1292.4 220.3 L1294.8 221.5 L1297.1 223.0 L1299.2 224.7 L1301.1 226.7 L1302.8 228.8 L1302.1 229.3 L1300.4 227.3 L1298.5 225.5 L1296.5 224.0 L1294.2 222.7 L1291.9 221.7 L1289.4 220.9 L1286.8 220.5 L1284.2 220.3 L1281.7 220.5 L1279.1 220.9 L1276.6 221.7 L1274.3 222.7 L1272.0 224.0 L1270.0 225.5 L1268.1 227.3 L1266.4 229.3Z M1300.0 227.2 L1302.1 225.0 L1304.4 223.1 L1306.8 221.5 L1309.4 220.2 L1312.1 219.2 L1314.9 218.5 L1317.8 218.1 L1320.6 218.1 L1323.4 218.4 L1326.1 219.0 L1328.7 220.0 L1331.2 221.1 L1333.5 222.6 L1335.7 224.3 L1337.6 226.2 L1339.3 228.3 L1338.6 228.8 L1336.9 226.9 L1335.0 225.1 L1332.9 223.6 L1330.6 222.3 L1328.3 221.3 L1325.8 220.6 L1323.2 220.2 L1320.6 220.1 L1318.0 220.2 L1315.5 220.7 L1313.0 221.5 L1310.7 222.6 L1308.5 223.9 L1306.4 225.5 L1304.6 227.3 L1302.9 229.3Z M1336.5 226.7 L1338.5 224.7 L1340.6 222.9 L1342.9 221.4 L1345.4 220.1 L1347.9 219.2 L1350.6 218.6 L1353.2 218.3 L1355.9 218.3 L1358.5 218.6 L1361.0 219.1 L1363.4 220.0 L1365.8 221.1 L1367.9 222.5 L1369.9 224.1 L1371.7 225.8 L1373.3 227.8 L1372.6 228.3 L1371.0 226.5 L1369.2 224.9 L1367.3 223.4 L1365.2 222.3 L1363.0 221.3 L1360.7 220.7 L1358.3 220.3 L1355.9 220.2 L1353.5 220.4 L1351.1 220.8 L1348.8 221.5 L1346.6 222.5 L1344.6 223.8 L1342.7 225.3 L1341.0 226.9 L1339.4 228.8Z M1370.5 226.3 L1372.5 224.1 L1374.7 222.2 L1377.1 220.5 L1379.7 219.2 L1382.4 218.1 L1385.1 217.4 L1387.9 217.1 L1390.7 217.0 L1393.5 217.3 L1396.2 217.8 L1398.8 218.7 L1401.2 219.8 L1403.5 221.2 L1405.6 222.9 L1407.6 224.7 L1409.3 226.8 L1408.6 227.3 L1406.9 225.4 L1405.0 223.7 L1402.9 222.2 L1400.7 221.0 L1398.3 220.1 L1395.8 219.4 L1393.3 219.0 L1390.8 218.9 L1388.2 219.1 L1385.7 219.7 L1383.3 220.5 L1381.0 221.6 L1378.8 222.9 L1376.8 224.5 L1375.0 226.3 L1373.5 228.3Z M1406.5 225.3 L1408.5 223.0 L1410.8 221.1 L1413.3 219.4 L1415.9 218.0 L1418.6 217.0 L1421.4 216.3 L1424.3 215.9 L1427.1 215.8 L1429.9 216.1 L1432.7 216.6 L1435.3 217.5 L1437.8 218.7 L1440.2 220.1 L1442.4 221.8 L1444.3 223.7 L1446.1 225.8 L1445.4 226.3 L1443.6 224.4 L1441.7 222.6 L1439.6 221.1 L1437.3 219.9 L1434.9 218.9 L1432.4 218.2 L1429.8 217.8 L1427.2 217.7 L1424.6 217.9 L1422.0 218.5 L1419.5 219.3 L1417.2 220.4 L1414.9 221.8 L1412.9 223.4 L1411.1 225.3 L1409.5 227.3Z M1443.3 224.2 L1445.0 222.6 L1446.8 221.1 L1448.8 220.0 L1450.8 219.0 L1452.9 218.3 L1455.1 217.9 L1457.2 217.7 L1459.4 217.7 L1461.5 218.0 L1463.6 218.6 L1465.5 219.3 L1467.4 220.3 L1469.1 221.4 L1470.6 222.7 L1472.0 224.2 L1473.3 225.8 L1472.6 226.3 L1471.3 224.9 L1470.0 223.5 L1468.4 222.4 L1466.8 221.4 L1465.0 220.7 L1463.2 220.1 L1461.3 219.8 L1459.4 219.7 L1457.5 219.8 L1455.6 220.1 L1453.8 220.7 L1452.0 221.4 L1450.4 222.4 L1448.8 223.5 L1447.5 224.9 L1446.2 226.3Z M1473.2 223.0 L1474.2 223.3 L1475.1 223.8 L1476.0 224.3 L1476.7 225.0 L1477.4 225.7 L1477.9 226.4 L1478.3 227.2 L1478.7 228.0 L1478.9 228.8 L1479.1 229.6 L1479.2 230.5 L1479.1 231.2 L1479.0 232.0 L1478.8 232.7 L1478.6 233.5 L1478.3 234.1 L1477.5 233.8 L1477.7 233.2 L1477.8 232.6 L1477.9 232.0 L1477.8 231.4 L1477.8 230.7 L1477.6 230.1 L1477.4 229.6 L1477.1 229.0 L1476.7 228.5 L1476.3 228.1 L1475.8 227.6 L1475.3 227.3 L1474.8 227.0 L1474.2 226.8 L1473.6 226.6 L1473.0 226.5Z M1478.2 231.0 L1481.2 231.5 L1484.0 232.5 L1486.7 233.7 L1489.3 235.2 L1491.6 237.0 L1493.7 239.0 L1495.5 241.3 L1497.0 243.7 L1498.3 246.2 L1499.2 248.9 L1499.8 251.6 L1500.1 254.4 L1500.1 257.1 L1499.8 259.9 L1499.2 262.5 L1498.3 265.1 L1497.5 264.8 L1498.3 262.3 L1498.8 259.7 L1499.0 257.1 L1498.8 254.5 L1498.4 251.9 L1497.7 249.4 L1496.7 247.0 L1495.4 244.7 L1493.8 242.6 L1492.1 240.7 L1490.1 239.0 L1487.9 237.6 L1485.6 236.4 L1483.1 235.5 L1480.6 234.9 L1478.0 234.5Z M1499.5 262.4 L1501.8 264.1 L1503.8 266.1 L1505.5 268.2 L1507.0 270.6 L1508.2 273.0 L1509.0 275.6 L1509.6 278.2 L1509.9 280.9 L1509.8 283.5 L1509.5 286.1 L1508.9 288.7 L1508.0 291.1 L1506.8 293.4 L1505.4 295.5 L1503.8 297.5 L1502.0 299.3 L1501.4 298.6 L1503.1 296.9 L1504.6 294.9 L1505.8 292.8 L1506.8 290.6 L1507.5 288.3 L1507.9 285.9 L1508.1 283.5 L1508.0 281.1 L1507.6 278.7 L1506.9 276.4 L1505.9 274.2 L1504.7 272.1 L1503.3 270.1 L1501.6 268.4 L1499.8 266.8 L1497.7 265.5Z M1503.5 296.5 L1505.6 298.4 L1507.4 300.5 L1509.0 302.8 L1510.3 305.2 L1511.3 307.7 L1512.0 310.4 L1512.3 313.0 L1512.4 315.6 L1512.2 318.3 L1511.6 320.8 L1510.8 323.3 L1509.7 325.6 L1508.4 327.8 L1506.9 329.8 L1505.1 331.6 L1503.2 333.3 L1502.7 332.6 L1504.5 331.0 L1506.1 329.2 L1507.4 327.2 L1508.6 325.1 L1509.5 322.8 L1510.1 320.5 L1510.4 318.1 L1510.5 315.7 L1510.2 313.3 L1509.7 311.0 L1509.0 308.7 L1507.9 306.5 L1506.6 304.5 L1505.1 302.6 L1503.4 300.9 L1501.5 299.5Z M1505.9 332.0 L1506.4 334.8 L1506.7 337.6 L1506.6 340.5 L1506.2 343.2 L1505.5 345.9 L1504.5 348.4 L1503.2 350.8 L1501.7 353.1 L1499.9 355.1 L1497.9 356.9 L1495.8 358.4 L1493.5 359.7 L1491.1 360.7 L1488.6 361.4 L1486.1 361.9 L1483.5 362.0 L1483.5 361.2 L1485.9 360.9 L1488.3 360.4 L1490.7 359.6 L1492.9 358.5 L1494.9 357.2 L1496.9 355.7 L1498.6 353.9 L1500.1 352.0 L1501.3 349.9 L1502.3 347.6 L1503.1 345.3 L1503.5 342.9 L1503.7 340.4 L1503.6 338.0 L1503.2 335.5 L1502.5 333.2Z M1486.2 363.2 L1484.4 365.5 L1482.4 367.7 L1480.2 369.6 L1477.8 371.1 L1475.3 372.4 L1472.6 373.4 L1469.9 374.1 L1467.2 374.5 L1464.4 374.5 L1461.7 374.2 L1459.0 373.6 L1456.5 372.8 L1454.0 371.6 L1451.8 370.2 L1449.7 368.6 L1447.7 366.7 L1448.4 366.1 L1450.3 367.8 L1452.3 369.3 L1454.5 370.6 L1456.9 371.5 L1459.3 372.2 L1461.8 372.6 L1464.4 372.7 L1466.9 372.6 L1469.4 372.1 L1471.8 371.3 L1474.1 370.2 L1476.3 368.9 L1478.3 367.4 L1480.1 365.6 L1481.7 363.6 L1483.0 361.4Z M1450.5 368.3 L1448.4 370.4 L1446.2 372.3 L1443.7 373.9 L1441.1 375.2 L1438.4 376.2 L1435.7 376.8 L1432.9 377.1 L1430.1 377.1 L1427.3 376.8 L1424.7 376.2 L1422.1 375.3 L1419.6 374.1 L1417.4 372.7 L1415.3 371.0 L1413.4 369.1 L1411.7 367.0 L1412.4 366.5 L1414.1 368.4 L1415.9 370.2 L1418.0 371.7 L1420.2 373.0 L1422.6 374.0 L1425.0 374.7 L1427.5 375.1 L1430.1 375.2 L1432.6 375.1 L1435.1 374.6 L1437.6 373.8 L1439.9 372.8 L1442.1 371.5 L1444.1 369.9 L1445.9 368.2 L1447.6 366.2Z M1414.5 368.6 L1412.4 370.7 L1410.1 372.6 L1407.7 374.2 L1405.1 375.5 L1402.4 376.4 L1399.6 377.0 L1396.8 377.4 L1394.0 377.3 L1391.3 377.0 L1388.6 376.4 L1386.0 375.5 L1383.6 374.2 L1381.3 372.8 L1379.2 371.1 L1377.4 369.2 L1375.7 367.1 L1376.4 366.6 L1378.1 368.5 L1379.9 370.3 L1382.0 371.8 L1384.2 373.1 L1386.5 374.1 L1389.0 374.8 L1391.5 375.3 L1394.0 375.4 L1396.6 375.3 L1399.1 374.8 L1401.5 374.1 L1403.9 373.0 L1406.1 371.8 L1408.1 370.2 L1409.9 368.4 L1411.6 366.5Z M1378.5 368.7 L1376.4 370.8 L1374.1 372.7 L1371.7 374.3 L1369.1 375.5 L1366.4 376.5 L1363.6 377.1 L1360.8 377.4 L1358.0 377.4 L1355.2 377.1 L1352.6 376.4 L1350.0 375.5 L1347.6 374.3 L1345.3 372.8 L1343.2 371.1 L1341.4 369.2 L1339.7 367.1 L1340.4 366.6 L1342.1 368.5 L1343.9 370.3 L1346.0 371.8 L1348.2 373.1 L1350.5 374.1 L1352.9 374.9 L1355.5 375.3 L1358.0 375.5 L1360.5 375.3 L1363.1 374.9 L1365.5 374.1 L1367.8 373.1 L1370.0 371.8 L1372.1 370.3 L1373.9 368.5 L1375.6 366.6Z M1342.5 368.7 L1340.4 370.8 L1338.1 372.7 L1335.7 374.3 L1333.1 375.5 L1330.4 376.5 L1327.6 377.1 L1324.8 377.4 L1322.0 377.4 L1319.2 377.1 L1316.6 376.4 L1314.0 375.5 L1311.6 374.3 L1309.3 372.8 L1307.2 371.1 L1305.4 369.2 L1303.7 367.1 L1304.4 366.6 L1306.1 368.5 L1307.9 370.3 L1310.0 371.8 L1312.2 373.1 L1314.5 374.1 L1316.9 374.9 L1319.5 375.3 L1322.0 375.5 L1324.5 375.3 L1327.1 374.9 L1329.5 374.1 L1331.8 373.1 L1334.0 371.8 L1336.1 370.3 L1337.9 368.5 L1339.6 366.6Z M1306.5 368.7 L1304.4 370.8 L1302.1 372.7 L1299.7 374.3 L1297.1 375.5 L1294.4 376.5 L1291.6 377.1 L1288.8 377.4 L1286.0 377.4 L1283.2 377.1 L1280.6 376.4 L1278.0 375.5 L1275.6 374.3 L1273.3 372.8 L1271.2 371.1 L1269.4 369.2 L1267.7 367.1 L1268.4 366.6 L1270.1 368.5 L1271.9 370.3 L1274.0 371.8 L1276.2 373.1 L1278.5 374.1 L1280.9 374.9 L1283.5 375.3 L1286.0 375.5 L1288.5 375.3 L1291.1 374.9 L1293.5 374.1 L1295.8 373.1 L1298.0 371.8 L1300.1 370.3 L1301.9 368.5 L1303.6 366.6Z M1270.5 368.7 L1268.4 370.8 L1266.1 372.7 L1263.7 374.3 L1261.1 375.5 L1258.4 376.5 L1255.6 377.1 L1252.8 377.4 L1250.0 377.4 L1247.2 377.1 L1244.6 376.4 L1242.0 375.5 L1239.6 374.3 L1237.3 372.8 L1235.2 371.1 L1233.4 369.2 L1231.7 367.1 L1232.4 366.6 L1234.1 368.5 L1235.9 370.3 L1238.0 371.8 L1240.2 373.1 L1242.5 374.1 L1244.9 374.9 L1247.5 375.3 L1250.0 375.5 L1252.5 375.3 L1255.1 374.9 L1257.5 374.1 L1259.8 373.1 L1262.0 371.8 L1264.1 370.3 L1265.9 368.5 L1267.6 366.6Z M1234.5 368.7 L1232.4 370.8 L1230.1 372.7 L1227.7 374.3 L1225.1 375.5 L1222.4 376.5 L1219.6 377.1 L1216.8 377.4 L1214.0 377.4 L1211.2 377.1 L1208.6 376.4 L1206.0 375.5 L1203.6 374.3 L1201.3 372.8 L1199.2 371.1 L1197.4 369.2 L1195.7 367.1 L1196.4 366.6 L1198.1 368.5 L1199.9 370.3 L1202.0 371.8 L1204.2 373.1 L1206.5 374.1 L1208.9 374.9 L1211.5 375.3 L1214.0 375.5 L1216.5 375.3 L1219.1 374.9 L1221.5 374.1 L1223.8 373.1 L1226.0 371.8 L1228.1 370.3 L1229.9 368.5 L1231.6 366.6Z M1198.5 368.7 L1196.4 370.8 L1194.1 372.7 L1191.7 374.3 L1189.1 375.5 L1186.4 376.5 L1183.6 377.1 L1180.8 377.4 L1178.0 377.4 L1175.2 377.1 L1172.6 376.4 L1170.0 375.5 L1167.6 374.3 L1165.3 372.8 L1163.2 371.1 L1161.4 369.2 L1159.7 367.1 L1160.4 366.6 L1162.1 368.5 L1163.9 370.3 L1166.0 371.8 L1168.2 373.1 L1170.5 374.1 L1172.9 374.9 L1175.5 375.3 L1178.0 375.5 L1180.5 375.3 L1183.1 374.9 L1185.5 374.1 L1187.8 373.1 L1190.0 371.8 L1192.1 370.3 L1193.9 368.5 L1195.6 366.6Z M1162.5 368.7 L1160.4 370.8 L1158.1 372.7 L1155.6 374.3 L1153.0 375.5 L1150.3 376.5 L1147.6 377.1 L1144.8 377.4 L1142.0 377.3 L1139.2 377.0 L1136.5 376.4 L1134.0 375.4 L1131.6 374.2 L1129.3 372.7 L1127.2 371.0 L1125.4 369.1 L1123.7 367.0 L1124.4 366.5 L1126.1 368.4 L1127.9 370.2 L1129.9 371.8 L1132.1 373.0 L1134.5 374.1 L1136.9 374.8 L1139.4 375.3 L1142.0 375.4 L1144.5 375.3 L1147.0 374.8 L1149.5 374.1 L1151.8 373.1 L1154.0 371.8 L1156.1 370.3 L1157.9 368.5 L1159.6 366.6Z M1126.4 368.6 L1124.4 370.7 L1122.1 372.6 L1119.6 374.1 L1117.0 375.4 L1114.3 376.3 L1111.5 376.9 L1108.7 377.2 L1105.9 377.1 L1103.2 376.8 L1100.5 376.1 L1097.9 375.2 L1095.5 373.9 L1093.3 372.4 L1091.2 370.7 L1089.4 368.8 L1087.7 366.7 L1088.4 366.2 L1090.1 368.2 L1091.9 369.9 L1093.9 371.5 L1096.1 372.8 L1098.4 373.8 L1100.9 374.6 L1103.4 375.1 L1105.9 375.2 L1108.5 375.1 L1111.0 374.7 L1113.4 374.0 L1115.8 373.0 L1118.0 371.7 L1120.1 370.2 L1121.9 368.4 L1123.6 366.5Z M1090.4 368.3 L1088.3 370.4 L1086.0 372.3 L1083.6 373.8 L1080.9 375.0 L1078.2 375.9 L1075.5 376.5 L1072.6 376.8 L1069.9 376.7 L1067.1 376.4 L1064.4 375.7 L1061.9 374.7 L1059.5 373.5 L1057.2 372.0 L1055.2 370.2 L1053.3 368.3 L1051.7 366.2 L1052.4 365.7 L1054.0 367.7 L1055.9 369.5 L1057.9 371.0 L1060.1 372.3 L1062.4 373.4 L1064.8 374.2 L1067.3 374.6 L1069.9 374.8 L1072.4 374.7 L1074.9 374.3 L1077.4 373.6 L1079.8 372.6 L1082.0 371.4 L1084.0 369.8 L1085.9 368.1 L1087.6 366.2Z M1054.4 367.9 L1052.6 369.5 L1050.7 370.9 L1048.7 372.1 L1046.6 373.0 L1044.4 373.6 L1042.1 374.0 L1039.9 374.1 L1037.7 374.0 L1035.5 373.6 L1033.5 373.0 L1031.5 372.1 L1029.6 371.1 L1027.9 369.8 L1026.3 368.4 L1024.9 366.9 L1023.7 365.2 L1024.5 364.7 L1025.7 366.3 L1027.0 367.7 L1028.6 368.9 L1030.2 370.0 L1032.0 370.8 L1033.9 371.4 L1035.8 371.9 L1037.8 372.0 L1039.7 372.0 L1041.7 371.7 L1043.6 371.2 L1045.4 370.5 L1047.2 369.6 L1048.8 368.4 L1050.3 367.1 L1051.6 365.7Z M1026.3 367.0 L1024.1 369.0 L1021.6 370.6 L1019.0 372.0 L1016.3 373.0 L1013.6 373.8 L1010.7 374.2 L1007.9 374.2 L1005.1 374.0 L1002.4 373.4 L999.8 372.6 L997.3 371.4 L995.0 370.0 L992.8 368.3 L990.9 366.5 L989.2 364.4 L987.7 362.2 L988.5 361.7 L989.9 363.8 L991.6 365.7 L993.5 367.4 L995.6 368.9 L997.9 370.1 L1000.3 371.1 L1002.8 371.7 L1005.3 372.1 L1007.8 372.1 L1010.4 371.9 L1012.9 371.4 L1015.3 370.5 L1017.6 369.4 L1019.8 368.1 L1021.8 366.5 L1023.6 364.6Z M990.5 363.8 L988.4 365.9 L986.1 367.8 L983.7 369.4 L981.1 370.6 L978.4 371.6 L975.6 372.2 L972.8 372.5 L970.0 372.5 L967.2 372.2 L964.6 371.5 L962.0 370.6 L959.6 369.4 L957.3 367.9 L955.2 366.2 L953.4 364.3 L951.7 362.2 L952.4 361.7 L954.1 363.6 L955.9 365.4 L958.0 366.9 L960.2 368.2 L962.5 369.2 L964.9 370.0 L967.5 370.4 L970.0 370.6 L972.5 370.4 L975.1 370.0 L977.5 369.2 L979.8 368.2 L982.0 366.9 L984.1 365.4 L985.9 363.6 L987.6 361.7Z M954.5 363.8 L952.3 366.0 L949.9 368.0 L947.3 369.7 L944.6 371.0 L941.8 372.0 L938.9 372.7 L935.9 373.0 L933.0 373.0 L930.1 372.7 L927.3 372.0 L924.6 371.0 L922.0 369.7 L919.6 368.2 L917.4 366.4 L915.5 364.4 L913.7 362.2 L914.4 361.7 L916.2 363.8 L918.1 365.6 L920.3 367.2 L922.6 368.6 L925.1 369.7 L927.7 370.4 L930.3 370.9 L933.0 371.1 L935.7 370.9 L938.3 370.4 L940.9 369.7 L943.4 368.6 L945.7 367.2 L947.9 365.6 L949.8 363.8 L951.6 361.7Z M916.5 363.8 L914.3 366.0 L912.0 368.0 L909.4 369.6 L906.7 370.9 L903.9 371.9 L901.0 372.6 L898.1 372.9 L895.2 372.9 L892.3 372.6 L889.5 371.9 L886.9 370.9 L884.3 369.7 L882.0 368.1 L879.8 366.4 L877.8 364.4 L876.1 362.2 L876.8 361.7 L878.5 363.7 L880.5 365.6 L882.6 367.2 L884.9 368.5 L887.4 369.6 L889.9 370.4 L892.5 370.8 L895.2 371.0 L897.9 370.8 L900.5 370.4 L903.0 369.6 L905.5 368.5 L907.8 367.2 L909.9 365.6 L911.9 363.7 L913.6 361.7Z M878.9 363.8 L876.9 365.8 L874.7 367.6 L872.4 369.1 L869.9 370.2 L867.4 371.1 L864.7 371.7 L862.1 372.0 L859.5 372.0 L856.9 371.6 L854.3 371.0 L851.9 370.1 L849.6 369.0 L847.5 367.6 L845.5 366.0 L843.8 364.2 L842.2 362.2 L842.9 361.7 L844.5 363.5 L846.2 365.2 L848.1 366.6 L850.2 367.8 L852.4 368.8 L854.7 369.5 L857.1 369.9 L859.5 370.0 L861.8 369.9 L864.2 369.5 L866.5 368.8 L868.7 367.8 L870.8 366.6 L872.7 365.2 L874.4 363.5 L876.0 361.7Z M845.0 363.8 L842.9 366.0 L840.6 367.8 L838.1 369.4 L835.5 370.7 L832.7 371.7 L829.9 372.3 L827.1 372.6 L824.2 372.6 L821.5 372.3 L818.8 371.6 L816.1 370.7 L813.7 369.5 L811.4 368.0 L809.3 366.3 L807.4 364.3 L805.7 362.2 L806.4 361.7 L808.1 363.7 L810.0 365.5 L812.0 367.0 L814.3 368.3 L816.6 369.3 L819.1 370.1 L821.7 370.5 L824.2 370.7 L826.8 370.5 L829.4 370.1 L831.9 369.3 L834.2 368.3 L836.5 367.0 L838.5 365.5 L840.4 363.7 L842.1 361.7Z M808.5 363.8 L806.4 366.0 L804.1 367.8 L801.6 369.4 L799.0 370.7 L796.2 371.7 L793.5 372.3 L790.6 372.6 L787.8 372.6 L785.0 372.3 L782.3 371.6 L779.7 370.7 L777.3 369.4 L775.0 368.0 L772.9 366.2 L771.0 364.3 L769.3 362.2 L770.0 361.7 L771.7 363.7 L773.6 365.4 L775.6 367.0 L777.8 368.3 L780.2 369.3 L782.7 370.1 L785.2 370.5 L787.8 370.7 L790.4 370.5 L792.9 370.1 L795.4 369.3 L797.8 368.3 L800.0 367.0 L802.0 365.4 L803.9 363.7 L805.6 361.7Z M772.1 363.8 L770.1 365.8 L767.9 367.6 L765.6 369.1 L763.1 370.2 L760.6 371.1 L757.9 371.7 L755.3 372.0 L752.7 372.0 L750.1 371.6 L747.5 371.0 L745.1 370.1 L742.8 369.0 L740.7 367.6 L738.7 366.0 L737.0 364.2 L735.4 362.2 L736.1 361.7 L737.7 363.5 L739.4 365.2 L741.3 366.6 L743.4 367.8 L745.6 368.8 L747.9 369.5 L750.3 369.9 L752.7 370.0 L755.0 369.9 L757.4 369.5 L759.7 368.8 L761.9 367.8 L764.0 366.6 L765.9 365.2 L767.6 363.5 L769.2 361.7Z M738.2 363.8 L736.1 365.9 L733.9 367.7 L731.5 369.2 L729.0 370.5 L726.3 371.4 L723.6 372.0 L720.9 372.3 L718.2 372.3 L715.5 371.9 L712.9 371.3 L710.3 370.4 L708.0 369.2 L705.8 367.8 L703.7 366.1 L701.9 364.2 L700.3 362.2 L701.0 361.7 L702.6 363.6 L704.4 365.3 L706.4 366.8 L708.6 368.1 L710.8 369.0 L713.2 369.8 L715.7 370.2 L718.2 370.3 L720.6 370.2 L723.1 369.8 L725.5 369.0 L727.7 368.1 L729.9 366.8 L731.9 365.3 L733.7 363.6 L735.3 361.7Z M703.1 363.8 L700.8 366.1 L698.4 368.1 L695.8 369.8 L693.0 371.2 L690.1 372.3 L687.1 372.9 L684.1 373.3 L681.0 373.3 L678.1 372.9 L675.2 372.2 L672.4 371.2 L669.8 369.9 L667.3 368.4 L665.0 366.5 L663.0 364.5 L661.2 362.2 L661.9 361.7 L663.7 363.8 L665.7 365.7 L667.9 367.4 L670.3 368.8 L672.9 369.9 L675.5 370.7 L678.3 371.2 L681.0 371.4 L683.8 371.2 L686.6 370.7 L689.2 369.9 L691.8 368.8 L694.2 367.4 L696.4 365.7 L698.4 363.8 L700.2 361.7Z M664.1 363.7 L662.2 365.8 L660.2 367.6 L658.0 369.2 L655.6 370.5 L653.1 371.6 L650.6 372.3 L648.0 372.7 L645.3 372.9 L642.7 372.7 L640.2 372.2 L637.8 371.5 L635.4 370.5 L633.3 369.2 L631.2 367.8 L629.4 366.1 L627.7 364.2 L628.4 363.6 L630.0 365.4 L631.9 366.9 L633.8 368.2 L636.0 369.3 L638.2 370.1 L640.5 370.7 L642.8 370.9 L645.2 370.9 L647.6 370.7 L649.9 370.1 L652.1 369.3 L654.2 368.2 L656.2 366.9 L658.0 365.4 L659.6 363.6 L661.0 361.7Z M630.6 365.6 L628.8 367.7 L626.9 369.6 L624.7 371.2 L622.4 372.6 L619.9 373.6 L617.4 374.4 L614.9 374.9 L612.3 375.1 L609.7 375.0 L607.2 374.6 L604.8 373.9 L602.5 372.9 L600.3 371.8 L598.3 370.3 L596.4 368.7 L594.7 366.9 L595.4 366.3 L597.1 368.0 L598.9 369.5 L600.8 370.7 L603.0 371.7 L605.2 372.5 L607.5 373.0 L609.8 373.2 L612.1 373.2 L614.5 372.8 L616.7 372.2 L618.9 371.4 L621.0 370.3 L622.9 368.9 L624.6 367.4 L626.2 365.6 L627.5 363.7Z M595.9 369.6 L593.1 370.1 L590.4 370.2 L587.6 370.0 L584.9 369.6 L582.3 368.8 L579.8 367.7 L577.5 366.4 L575.4 364.8 L573.5 363.0 L571.8 361.0 L570.3 358.8 L569.2 356.6 L568.2 354.2 L567.6 351.7 L567.3 349.2 L567.2 346.7 L568.0 346.7 L568.2 349.1 L568.6 351.5 L569.3 353.8 L570.3 356.0 L571.5 358.0 L573.0 360.0 L574.6 361.7 L576.5 363.2 L578.5 364.5 L580.7 365.6 L583.0 366.4 L585.3 366.9 L587.7 367.1 L590.1 367.1 L592.5 366.8 L594.8 366.2Z M566.8 349.7 L564.1 348.6 L561.5 347.2 L559.2 345.6 L557.0 343.7 L555.2 341.6 L553.5 339.3 L552.2 336.8 L551.2 334.3 L550.5 331.7 L550.1 329.0 L549.9 326.3 L550.1 323.6 L550.6 321.0 L551.4 318.5 L552.4 316.1 L553.7 313.8 L554.5 314.3 L553.3 316.5 L552.4 318.8 L551.8 321.3 L551.4 323.7 L551.4 326.3 L551.6 328.7 L552.2 331.2 L553.0 333.6 L554.1 335.8 L555.4 337.9 L557.0 339.9 L558.8 341.6 L560.8 343.1 L562.9 344.4 L565.2 345.4 L567.6 346.2Z M552.6 316.7 L550.2 315.1 L548.1 313.2 L546.1 311.1 L544.5 308.8 L543.1 306.3 L542.1 303.7 L541.3 301.1 L540.9 298.4 L540.8 295.7 L541.0 293.0 L541.4 290.3 L542.2 287.8 L543.3 285.4 L544.6 283.1 L546.1 281.0 L547.8 279.1 L548.5 279.7 L546.9 281.6 L545.5 283.6 L544.3 285.9 L543.5 288.2 L542.9 290.6 L542.5 293.1 L542.5 295.6 L542.8 298.1 L543.4 300.5 L544.2 302.8 L545.3 305.1 L546.7 307.1 L548.3 309.1 L550.1 310.8 L552.1 312.3 L554.2 313.5Z M545.6 281.1 L544.3 278.6 L543.2 275.9 L542.5 273.2 L542.1 270.4 L542.0 267.6 L542.2 264.8 L542.8 262.2 L543.6 259.6 L544.7 257.1 L546.1 254.8 L547.7 252.7 L549.6 250.8 L551.6 249.2 L553.8 247.8 L556.1 246.6 L558.5 245.7 L558.8 246.5 L556.5 247.5 L554.3 248.6 L552.3 250.1 L550.5 251.7 L548.9 253.6 L547.5 255.7 L546.3 257.8 L545.4 260.2 L544.8 262.6 L544.5 265.0 L544.5 267.5 L544.7 269.9 L545.3 272.3 L546.1 274.7 L547.2 276.9 L548.5 279.0Z M555.7 246.9 L555.2 243.9 L555.0 240.8 L555.2 237.8 L555.8 234.9 L556.6 232.1 L557.8 229.4 L559.3 226.9 L561.0 224.6 L563.0 222.5 L565.1 220.6 L567.5 219.1 L570.0 217.8 L572.6 216.8 L575.3 216.1 L578.0 215.7 L580.8 215.7 L580.8 216.5 L578.2 216.7 L575.5 217.1 L573.0 217.9 L570.6 218.9 L568.3 220.3 L566.2 221.9 L564.2 223.7 L562.5 225.7 L561.1 227.9 L559.9 230.3 L559.0 232.8 L558.4 235.4 L558.1 238.0 L558.2 240.6 L558.5 243.3 L559.1 245.8Z" fill="#111" stroke="none"/>
<text x="589.7" y="244.2" font-size="17.3" font-family="Liberation Sans" fill="#111" textLength="209.6" lengthAdjust="spacingAndGlyphs">CITY TREE FUND CHART</text>
<line x1="587" y1="248" x2="1468" y2="248" stroke="#222" stroke-width="1.3" />
<rect x="588" y="251.2" width="880" height="91.5" stroke="#333" stroke-width="0.9" fill="none" />
<line x1="660" y1="269.2" x2="1468" y2="269.2" stroke="#333" stroke-width="0.9" />
<line x1="660" y1="306" x2="1468" y2="306" stroke="#333" stroke-width="0.9" />
<line x1="660" y1="251.2" x2="660" y2="342.7" stroke="#333" stroke-width="0.9" />
<line x1="723.8" y1="269.2" x2="723.8" y2="342.7" stroke="#333" stroke-width="0.9" />
<line x1="766.5" y1="269.2" x2="766.5" y2="342.7" stroke="#333" stroke-width="0.9" />
<line x1="830.3" y1="269.2" x2="830.3" y2="342.7" stroke="#333" stroke-width="0.9" />
<line x1="873.3" y1="269.2" x2="873.3" y2="342.7" stroke="#333" stroke-width="0.9" />
<line x1="936.3" y1="269.2" x2="936.3" y2="342.7" stroke="#333" stroke-width="0.9" />
<line x1="979.5" y1="269.2" x2="979.5" y2="342.7" stroke="#333" stroke-width="0.9" />
<line x1="1042.7" y1="269.2" x2="1042.7" y2="342.7" stroke="#333" stroke-width="0.9" />
<line x1="1085.6" y1="269.2" x2="1085.6" y2="342.7" stroke="#333" stroke-width="0.9" />
<line x1="1148.6" y1="269.2" x2="1148.6" y2="342.7" stroke="#333" stroke-width="0.9" />
<line x1="1191.9" y1="269.2" x2="1191.9" y2="342.7" stroke="#333" stroke-width="0.9" />
<line x1="1255.4" y1="269.2" x2="1255.4" y2="342.7" stroke="#333" stroke-width="0.9" />
<line x1="1298.4" y1="269.2" x2="1298.4" y2="342.7" stroke="#333" stroke-width="0.9" />
<line x1="1361.4" y1="269.2" x2="1361.4" y2="342.7" stroke="#333" stroke-width="0.9" />
<line x1="1404.4" y1="269.2" x2="1404.4" y2="342.7" stroke="#333" stroke-width="0.9" />
<text x="624.0" y="298.5" font-size="7" font-family="Liberation Sans" text-anchor="middle">Oak</text>
<text x="1064.5" y="262.3" font-size="6.8" font-family="Liberation Sans" text-anchor="middle" font-weight="bold" textLength="198" lengthAdjust="spacingAndGlyphs">Tree Replacement Formula—All Trees Less Slash Pine:</text>
<text x="691.9" y="284.7" font-size="6.6" font-family="Liberation Sans" text-anchor="middle" font-weight="bold" textLength="50.150000000000006" lengthAdjust="spacingAndGlyphs">Total # inches to</text>
<text x="691.9" y="295.3" font-size="6.6" font-family="Liberation Sans" text-anchor="middle" font-weight="bold" textLength="17.700000000000003" lengthAdjust="spacingAndGlyphs">remove</text>
<text x="691.9" y="326.3" font-size="7" font-family="Liberation Sans" text-anchor="middle" fill="#333">37</text>
<text x="745.1" y="290.0" font-size="6.6" font-family="Liberation Sans" text-anchor="middle" font-weight="bold">x</text>
<text x="745.1" y="326.3" font-size="7" font-family="Liberation Sans" text-anchor="middle" font-weight="bold" fill="#333">x</text>
<text x="798.4" y="290.0" font-size="6.6" font-family="Liberation Sans" text-anchor="middle" font-weight="bold">2.5</text>
<text x="798.4" y="326.3" font-size="7" font-family="Liberation Sans" text-anchor="middle" font-weight="bold" fill="#333">2.5</text>
<text x="851.8" y="290.0" font-size="6.6" font-family="Liberation Sans" text-anchor="middle" font-weight="bold">=</text>
<text x="851.8" y="326.3" font-size="7" font-family="Liberation Sans" text-anchor="middle" fill="#333">=</text>
<text x="904.8" y="284.7" font-size="6.6" font-family="Liberation Sans" text-anchor="middle" font-weight="bold" textLength="50.150000000000006" lengthAdjust="spacingAndGlyphs">Total # inches to</text>
<text x="904.8" y="295.3" font-size="6.6" font-family="Liberation Sans" text-anchor="middle" font-weight="bold" textLength="32.45" lengthAdjust="spacingAndGlyphs">be replaced</text>
<text x="904.8" y="326.3" font-size="7" font-family="Liberation Sans" text-anchor="middle" fill="#333">92.5</text>
<text x="957.9" y="290.0" font-size="6.6" font-family="Liberation Sans" text-anchor="middle" font-weight="bold">/</text>
<text x="957.9" y="326.3" font-size="7" font-family="Liberation Sans" text-anchor="middle" font-weight="bold" fill="#333">/</text>
<text x="1011.1" y="284.7" font-size="6.6" font-family="Liberation Sans" text-anchor="middle" font-weight="bold" textLength="44.25" lengthAdjust="spacingAndGlyphs">Minimum size to</text>
<text x="1011.1" y="295.3" font-size="6.6" font-family="Liberation Sans" text-anchor="middle" font-weight="bold" textLength="35.400000000000006" lengthAdjust="spacingAndGlyphs">replace 4.5"</text>
<text x="1011.1" y="326.3" font-size="7" font-family="Liberation Sans" text-anchor="middle" font-weight="bold" fill="#333">4.5</text>
<text x="1064.2" y="290.0" font-size="6.6" font-family="Liberation Sans" text-anchor="middle" font-weight="bold">=</text>
<text x="1064.2" y="326.3" font-size="7" font-family="Liberation Sans" text-anchor="middle" fill="#333">=</text>
<text x="1117.1" y="284.7" font-size="6.6" font-family="Liberation Sans" text-anchor="middle" font-weight="bold" textLength="47.2" lengthAdjust="spacingAndGlyphs">Total # trees to</text>
<text x="1117.1" y="295.3" font-size="6.6" font-family="Liberation Sans" text-anchor="middle" font-weight="bold">plant</text>
<text x="1117.1" y="326.3" font-size="7" font-family="Liberation Sans" text-anchor="middle" fill="#333">20.6</text>
<text x="1170.2" y="290.0" font-size="6.6" font-family="Liberation Sans" text-anchor="middle" font-weight="bold">x</text>
<text x="1170.2" y="326.3" font-size="7" font-family="Liberation Sans" text-anchor="middle" font-weight="bold" fill="#333">x</text>
<text x="1223.7" y="279.4" font-size="6.6" font-family="Liberation Sans" text-anchor="middle" font-weight="bold" textLength="50.150000000000006" lengthAdjust="spacingAndGlyphs">50% mitigation to</text>
<text x="1223.7" y="290.0" font-size="6.6" font-family="Liberation Sans" text-anchor="middle" font-weight="bold" textLength="53.1" lengthAdjust="spacingAndGlyphs">pay into city tree</text>
<text x="1223.7" y="300.6" font-size="6.6" font-family="Liberation Sans" text-anchor="middle" font-weight="bold">fund</text>
<text x="1223.7" y="326.3" font-size="7" font-family="Liberation Sans" text-anchor="middle" fill="#333">0.50</text>
<text x="1276.9" y="290.0" font-size="6.6" font-family="Liberation Sans" text-anchor="middle" font-weight="bold">x</text>
<text x="1276.9" y="326.3" font-size="7" font-family="Liberation Sans" text-anchor="middle" font-weight="bold" fill="#333">x</text>
<text x="1329.9" y="284.7" font-size="6.6" font-family="Liberation Sans" text-anchor="middle" font-weight="bold" textLength="38.35" lengthAdjust="spacingAndGlyphs">175% of plant</text>
<text x="1329.9" y="295.3" font-size="6.6" font-family="Liberation Sans" text-anchor="middle" font-weight="bold" textLength="47.2" lengthAdjust="spacingAndGlyphs">finder wholesale</text>
<text x="1329.9" y="326.3" font-size="7" font-family="Liberation Sans" text-anchor="middle" fill="#333">225</text>
<text x="1382.9" y="290.0" font-size="6.6" font-family="Liberation Sans" text-anchor="middle" font-weight="bold">=</text>
<text x="1382.9" y="326.3" font-size="7" font-family="Liberation Sans" text-anchor="middle" fill="#333">=</text>
<text x="1436.2" y="279.4" font-size="6.6" font-family="Liberation Sans" text-anchor="middle" font-weight="bold" textLength="50.150000000000006" lengthAdjust="spacingAndGlyphs">Total $ amount to</text>
<text x="1436.2" y="290.0" font-size="6.6" font-family="Liberation Sans" text-anchor="middle" font-weight="bold" textLength="53.1" lengthAdjust="spacingAndGlyphs">pay into city tree</text>
<text x="1436.2" y="300.6" font-size="6.6" font-family="Liberation Sans" text-anchor="middle" font-weight="bold">fund</text>
<text x="1465.5" y="326.3" font-size="7" font-family="Liberation Sans" text-anchor="end" fill="#333">2,312.50</text>
<rect x="65" y="27" width="1666.9" height="1227.6" stroke="#000" stroke-width="4" fill="none" />
<rect x="1762.7" y="26.8" width="128.3" height="1227.4" stroke="#000" stroke-width="4" fill="none" />
<rect x="1764.7" y="28.8" width="63.6" height="216" fill="#575757"/>
<line x1="1762.7" y1="246" x2="1891" y2="246" stroke="#000" stroke-width="3.9" />
<line x1="1762.7" y1="687.3" x2="1891" y2="687.3" stroke="#000" stroke-width="3.9" />
<line x1="1762.7" y1="810" x2="1891" y2="810" stroke="#000" stroke-width="3.9" />
<line x1="1762.7" y1="908.6" x2="1891" y2="908.6" stroke="#000" stroke-width="3.9" />
<line x1="1762.7" y1="1015.4" x2="1891" y2="1015.4" stroke="#000" stroke-width="3.9" />
<line x1="1762.7" y1="1070.8" x2="1891" y2="1070.8" stroke="#000" stroke-width="3.9" />
<line x1="1762.7" y1="1212.8" x2="1891" y2="1212.8" stroke="#000" stroke-width="3.9" />
<text x="1803.2" y="175.0" font-size="50" font-family="Liberation Sans" fill="#fff" textLength="141.5" lengthAdjust="spacingAndGlyphs" transform="rotate(-90 1803.2 175.0)" stroke="#575757" stroke-width="2">SUGG</text>
<text x="1821.5" y="174.0" font-size="20.5" font-family="Liberation Sans" font-weight="bold" fill="#fff" textLength="140.5" lengthAdjust="spacingAndGlyphs" transform="rotate(-90 1821.5 174.0)">design studio</text>
<text x="1827.5" y="43.0" font-size="4.5" font-family="Liberation Sans" fill="#bbb" textLength="11.5" lengthAdjust="spacingAndGlyphs" transform="rotate(-90 1827.5 43.0)">LLC</text>
<g>
<clipPath id="hc"><path d="M1798 180.4 A29 29 0 0 0 1798 238.9 A14.5 14.5 0 0 0 1810.7 209.3 A14.5 14.5 0 0 0 1798 180.4 Z"/></clipPath>
<g clip-path="url(#hc)">
<rect x="1765" y="178" width="60" height="64" fill="#6a6a6a"/>
<path d="M1760 180 L1794 209.3 L1760 240 Z" fill="#efefef"/>
<path d="M1776 176 L1810 209.3 L1776 243 L1768 243 L1794 209.3 L1768 176 Z" fill="#a0a0a0"/>
<path d="M1790 176 L1822 209.3 L1790 243 L1784 243 L1810 209.3 L1784 176 Z" fill="#848484"/>
</g>
<path d="M1798 180.4 A29 29 0 0 0 1798 238.9 A14.5 14.5 0 0 0 1810.7 209.3 A14.5 14.5 0 0 0 1798 180.4 Z" fill="none" stroke="#f4f4f4" stroke-width="1.3"/>
<path d="M1810.7 180 L1810.7 239 M1794 209.3 L1822 209.3 M1778 186 L1810.7 209.3 L1778 233" stroke="#e8e8e8" stroke-width="0.7" fill="none"/>
</g>
<text x="1838.0" y="241.7" font-size="7.6" font-family="Liberation Sans" textLength="211" lengthAdjust="spacingAndGlyphs" transform="rotate(-90 1838.0 241.7)">CREATIVE + LIVABLE LANDSCAPE ARCHITECTURE</text>
<text x="1852.7" y="239.7" font-size="8" font-family="Liberation Sans" fill="#333" textLength="207.7" lengthAdjust="spacingAndGlyphs" transform="rotate(-90 1852.7 239.7)">2336 SE Ocean Blvd. #233,   Stuart,   Florida   34996</text>
<text x="1861.3" y="239.7" font-size="8" font-family="Liberation Sans" fill="#333" textLength="208.5" lengthAdjust="spacingAndGlyphs" transform="rotate(-90 1861.3 239.7)">p: 772-979-5696  e: suggdesignstudio@gmail.com</text>
<text x="1876.5" y="233.6" font-size="8" font-family="Liberation Sans" fill="#444" textLength="194.2" lengthAdjust="spacingAndGlyphs" transform="rotate(-90 1876.5 233.6)">w w w . S u g g D e s i g n S t u d i o . c o m</text>
<text x="1887.2" y="73.0" font-size="5.5" font-family="Liberation Sans" fill="#999" textLength="42.5" lengthAdjust="spacingAndGlyphs" transform="rotate(-90 1887.2 73.0)">LC26000582</text>
<text x="1811.9" y="610.0" font-size="31.5" font-family="Liberation Sans" fill="#111" textLength="285.6" lengthAdjust="spacingAndGlyphs" transform="rotate(-90 1811.9 610.0)" stroke="#111" stroke-width="1.1">Calle on Camden</text>
<text x="1838.8" y="559.8" font-size="21" font-family="Liberation Sans" fill="#333" textLength="185" lengthAdjust="spacingAndGlyphs" transform="rotate(-90 1838.8 559.8)">506 Camden Ave.</text>
<text x="1865.8" y="534.6" font-size="21" font-family="Liberation Sans" fill="#333" textLength="134.6" lengthAdjust="spacingAndGlyphs" transform="rotate(-90 1865.8 534.6)">Stuart, Florida</text>
<circle cx="1825.5" cy="750.6" r="49" fill="none" stroke="#444" stroke-width="1"/>
<circle cx="1825.5" cy="750.6" r="43" fill="none" stroke="#444" stroke-width="1"/>
<line x1="1869.0" y1="750.6" x2="1873.8" y2="754.5" stroke="#333" stroke-width="1.9"/>
<line x1="1868.7" y1="755.5" x2="1873.1" y2="759.9" stroke="#333" stroke-width="1.9"/>
<line x1="1867.9" y1="760.3" x2="1871.8" y2="765.1" stroke="#333" stroke-width="1.9"/>
<line x1="1866.6" y1="765.0" x2="1869.9" y2="770.2" stroke="#333" stroke-width="1.9"/>
<line x1="1864.7" y1="769.5" x2="1867.4" y2="775.1" stroke="#333" stroke-width="1.9"/>
<line x1="1862.3" y1="773.7" x2="1864.4" y2="779.6" stroke="#333" stroke-width="1.9"/>
<line x1="1859.5" y1="777.7" x2="1860.9" y2="783.8" stroke="#333" stroke-width="1.9"/>
<line x1="1856.3" y1="781.4" x2="1856.9" y2="787.5" stroke="#333" stroke-width="1.9"/>
<line x1="1852.6" y1="784.6" x2="1852.6" y2="790.8" stroke="#333" stroke-width="1.9"/>
<line x1="1848.6" y1="787.4" x2="1847.9" y2="793.6" stroke="#333" stroke-width="1.9"/>
<line x1="1844.4" y1="789.8" x2="1843.0" y2="795.8" stroke="#333" stroke-width="1.9"/>
<line x1="1839.9" y1="791.7" x2="1837.8" y2="797.5" stroke="#333" stroke-width="1.9"/>
<line x1="1835.2" y1="793.0" x2="1832.5" y2="798.6" stroke="#333" stroke-width="1.9"/>
<line x1="1830.4" y1="793.8" x2="1827.1" y2="799.1" stroke="#333" stroke-width="1.9"/>
<line x1="1825.5" y1="794.1" x2="1821.6" y2="798.9" stroke="#333" stroke-width="1.9"/>
<line x1="1820.6" y1="793.8" x2="1816.2" y2="798.2" stroke="#333" stroke-width="1.9"/>
<line x1="1815.8" y1="793.0" x2="1811.0" y2="796.9" stroke="#333" stroke-width="1.9"/>
<line x1="1811.1" y1="791.7" x2="1805.9" y2="795.0" stroke="#333" stroke-width="1.9"/>
<line x1="1806.6" y1="789.8" x2="1801.0" y2="792.5" stroke="#333" stroke-width="1.9"/>
<line x1="1802.4" y1="787.4" x2="1796.5" y2="789.5" stroke="#333" stroke-width="1.9"/>
<line x1="1798.4" y1="784.6" x2="1792.3" y2="786.0" stroke="#333" stroke-width="1.9"/>
<line x1="1794.7" y1="781.4" x2="1788.6" y2="782.0" stroke="#333" stroke-width="1.9"/>
<line x1="1791.5" y1="777.7" x2="1785.3" y2="777.7" stroke="#333" stroke-width="1.9"/>
<line x1="1788.7" y1="773.7" x2="1782.5" y2="773.0" stroke="#333" stroke-width="1.9"/>
<line x1="1786.3" y1="769.5" x2="1780.3" y2="768.1" stroke="#333" stroke-width="1.9"/>
<line x1="1784.4" y1="765.0" x2="1778.6" y2="762.9" stroke="#333" stroke-width="1.9"/>
<line x1="1783.1" y1="760.3" x2="1777.5" y2="757.6" stroke="#333" stroke-width="1.9"/>
<line x1="1782.3" y1="755.5" x2="1777.0" y2="752.2" stroke="#333" stroke-width="1.9"/>
<line x1="1782.0" y1="750.6" x2="1777.2" y2="746.7" stroke="#333" stroke-width="1.9"/>
<line x1="1782.3" y1="745.7" x2="1777.9" y2="741.3" stroke="#333" stroke-width="1.9"/>
<line x1="1783.1" y1="740.9" x2="1779.2" y2="736.1" stroke="#333" stroke-width="1.9"/>
<line x1="1784.4" y1="736.2" x2="1781.1" y2="731.0" stroke="#333" stroke-width="1.9"/>
<line x1="1786.3" y1="731.7" x2="1783.6" y2="726.1" stroke="#333" stroke-width="1.9"/>
<line x1="1788.7" y1="727.5" x2="1786.6" y2="721.6" stroke="#333" stroke-width="1.9"/>
<line x1="1791.5" y1="723.5" x2="1790.1" y2="717.4" stroke="#333" stroke-width="1.9"/>
<line x1="1794.7" y1="719.8" x2="1794.1" y2="713.7" stroke="#333" stroke-width="1.9"/>
<line x1="1798.4" y1="716.6" x2="1798.4" y2="710.4" stroke="#333" stroke-width="1.9"/>
<line x1="1802.4" y1="713.8" x2="1803.1" y2="707.6" stroke="#333" stroke-width="1.9"/>
<line x1="1806.6" y1="711.4" x2="1808.0" y2="705.4" stroke="#333" stroke-width="1.9"/>
<line x1="1811.1" y1="709.5" x2="1813.2" y2="703.7" stroke="#333" stroke-width="1.9"/>
<line x1="1815.8" y1="708.2" x2="1818.5" y2="702.6" stroke="#333" stroke-width="1.9"/>
<line x1="1820.6" y1="707.4" x2="1823.9" y2="702.1" stroke="#333" stroke-width="1.9"/>
<line x1="1825.5" y1="707.1" x2="1829.4" y2="702.3" stroke="#333" stroke-width="1.9"/>
<line x1="1830.4" y1="707.4" x2="1834.8" y2="703.0" stroke="#333" stroke-width="1.9"/>
<line x1="1835.2" y1="708.2" x2="1840.0" y2="704.3" stroke="#333" stroke-width="1.9"/>
<line x1="1839.9" y1="709.5" x2="1845.1" y2="706.2" stroke="#333" stroke-width="1.9"/>
<line x1="1844.4" y1="711.4" x2="1850.0" y2="708.7" stroke="#333" stroke-width="1.9"/>
<line x1="1848.6" y1="713.8" x2="1854.5" y2="711.7" stroke="#333" stroke-width="1.9"/>
<line x1="1852.6" y1="716.6" x2="1858.7" y2="715.2" stroke="#333" stroke-width="1.9"/>
<line x1="1856.3" y1="719.8" x2="1862.4" y2="719.2" stroke="#333" stroke-width="1.9"/>
<line x1="1859.5" y1="723.5" x2="1865.7" y2="723.5" stroke="#333" stroke-width="1.9"/>
<line x1="1862.3" y1="727.5" x2="1868.5" y2="728.2" stroke="#333" stroke-width="1.9"/>
<line x1="1864.7" y1="731.7" x2="1870.7" y2="733.1" stroke="#333" stroke-width="1.9"/>
<line x1="1866.6" y1="736.2" x2="1872.4" y2="738.3" stroke="#333" stroke-width="1.9"/>
<line x1="1867.9" y1="740.9" x2="1873.5" y2="743.6" stroke="#333" stroke-width="1.9"/>
<line x1="1868.7" y1="745.7" x2="1874.0" y2="749.0" stroke="#333" stroke-width="1.9"/>
<circle cx="1825.5" cy="750.6" r="32.3" fill="none" stroke="#555" stroke-width="0.8" stroke-dasharray="0.8 1.6"/>
<path id="sealT" d="M1791.6 761.1 A35.5 35.5 0 1 1 1859.4 761.5" fill="none"/>
<text font-size="7.6" font-family="Liberation Sans" fill="#222"><textPath href="#sealT" startOffset="50%" text-anchor="middle" textLength="128" lengthAdjust="spacingAndGlyphs">REGISTERED LANDSCAPE ARCHITECT</textPath></text>
<path id="sealT2" d="M1799.5 752.6 A26 26 0 0 1 1851.5 752.6" fill="none"/>
<text font-size="6.8" font-family="Liberation Sans" fill="#333"><textPath href="#sealT2" startOffset="50%" text-anchor="middle" textLength="72" lengthAdjust="spacingAndGlyphs">DANIEL MCRAE SUGG</textPath></text>
<path id="sealB" d="M1787.5 750.6 A38 38 0 0 0 1863.5 750.6" fill="none"/>
<text font-size="6.8" font-family="Liberation Sans" fill="#333"><textPath href="#sealB" startOffset="50%" text-anchor="middle" textLength="28" lengthAdjust="spacingAndGlyphs">FLORIDA</textPath></text>
<text x="1825.0" y="744.3" font-size="7.2" font-family="Liberation Sans" text-anchor="middle" textLength="34" lengthAdjust="spacingAndGlyphs">LA6667190</text>
<text x="1824.5" y="769.0" font-size="5" font-family="Liberation Sans" text-anchor="middle" fill="#555">STATE</text>
<text x="1824.5" y="777.0" font-size="5" font-family="Liberation Sans" text-anchor="middle" fill="#555">OF</text>
<text x="1793.5" y="776" font-size="6" fill="#222">&#9733;</text><text x="1852.5" y="773.5" font-size="6" fill="#222">&#9733;</text>
<path d="M1805.5 752.6 L1820.5 751.6 M1813.5 752.6 L1813.5 766.6 M1810.5 766.6 C1825.5 761.6 1830.5 752.6 1815.5 749.6 M1821.5 762.6 L1823.5 749.6 L1828.5 760.6 L1831.5 749.6 L1832.5 764.6 M1849.5 751.6 C1830.5 750.6 1827.5 758.6 1840.5 758.6 C1857.5 760.6 1849.5 770.6 1807.5 768.6" stroke="#4b4b9c" stroke-width="1.5" fill="none" />
<text x="1826.8" y="847.8" font-size="14.8" font-family="Liberation Sans" text-anchor="middle" fill="#111" textLength="58" lengthAdjust="spacingAndGlyphs" stroke="#111" stroke-width="0.45">Ex. Tree</text>
<text x="1826.2" y="865.6" font-size="14.8" font-family="Liberation Sans" text-anchor="middle" fill="#111" textLength="107" lengthAdjust="spacingAndGlyphs" stroke="#111" stroke-width="0.45">Management</text>
<text x="1826.9" y="884.3" font-size="14.8" font-family="Liberation Sans" text-anchor="middle" fill="#111" textLength="33" lengthAdjust="spacingAndGlyphs" stroke="#111" stroke-width="0.45">Plan</text>
<circle cx="1826.7" cy="960.7" r="36" fill="none" stroke="#3a3a3a" stroke-width="2"/>
<path d="M1826.7 996.5 L1826.7 942.5 M1809.8 959.2 L1826.7 942.3 L1844 959.2" stroke="#3a3a3a" stroke-width="2.2" fill="none" />
<text x="1825.8" y="991.8" font-size="10.5" font-family="Liberation Sans" fill="#444" textLength="31" lengthAdjust="spacingAndGlyphs" transform="rotate(-90 1825.8 991.8)">NORTH</text>
<text x="1769.3" y="1033.4" font-size="11.5" font-family="Liberation Sans" fill="#333" textLength="81.3" lengthAdjust="spacingAndGlyphs">SCALE: 1/8" = 1'</text>
<text x="1770.5" y="1045.5" font-size="7" font-family="Liberation Sans" fill="#333">0'</text>
<text x="1798.5" y="1045.5" font-size="7" font-family="Liberation Sans" fill="#333">4'</text>
<text x="1822.5" y="1045.5" font-size="7" font-family="Liberation Sans" fill="#333">8'</text>
<text x="1873.5" y="1045.5" font-size="7" font-family="Liberation Sans" fill="#333">16'</text>
<rect x="1772.4" y="1056.3" width="26.4" height="8.2" fill="#555"/>
<rect x="1798.8" y="1048.2" width="26.8" height="8.1" fill="#555"/>
<rect x="1825.6" y="1056.3" width="53.4" height="8.2" fill="#555"/>
<line x1="1772.4" y1="1046" x2="1772.4" y2="1066" stroke="#777" stroke-width="0.6" />
<line x1="1879" y1="1046" x2="1879" y2="1066" stroke="#777" stroke-width="0.6" />
<text x="1770.9" y="1084.7" font-size="6.8" font-family="Liberation Sans" fill="#333" textLength="32" lengthAdjust="spacingAndGlyphs" stroke="#333" stroke-width="0.15">DESIGNED</text>
<text x="1878.9" y="1082.8" font-size="7.3" font-family="Liberation Sans" text-anchor="end" fill="#333" textLength="16" lengthAdjust="spacingAndGlyphs">DMS</text>
<line x1="1803.9" y1="1085.5" x2="1881" y2="1085.5" stroke="#888" stroke-width="0.7" />
<text x="1770.9" y="1094.2" font-size="6.8" font-family="Liberation Sans" fill="#333" textLength="23.4" lengthAdjust="spacingAndGlyphs" stroke="#333" stroke-width="0.15">DRAWN</text>
<text x="1878.9" y="1092.2" font-size="7.3" font-family="Liberation Sans" text-anchor="end" fill="#333" textLength="16" lengthAdjust="spacingAndGlyphs">DMS</text>
<line x1="1795.3000000000002" y1="1094.95" x2="1881" y2="1094.95" stroke="#888" stroke-width="0.7" />
<text x="1770.9" y="1103.6" font-size="6.8" font-family="Liberation Sans" fill="#333" textLength="33.5" lengthAdjust="spacingAndGlyphs" stroke="#333" stroke-width="0.15">APPROVED</text>
<text x="1878.9" y="1101.7" font-size="7.3" font-family="Liberation Sans" text-anchor="end" fill="#333" textLength="16" lengthAdjust="spacingAndGlyphs">DMS</text>
<line x1="1805.4" y1="1104.4" x2="1881" y2="1104.4" stroke="#888" stroke-width="0.7" />
<text x="1770.9" y="1113.0" font-size="6.8" font-family="Liberation Sans" fill="#333" textLength="15" lengthAdjust="spacingAndGlyphs" stroke="#333" stroke-width="0.15">DATE</text>
<text x="1878.9" y="1111.1" font-size="7.3" font-family="Liberation Sans" text-anchor="end" fill="#333" textLength="36" lengthAdjust="spacingAndGlyphs">12/19/2023</text>
<line x1="1786.9" y1="1113.85" x2="1881" y2="1113.85" stroke="#888" stroke-width="0.7" />
<text x="1770.9" y="1122.5" font-size="6.8" font-family="Liberation Sans" fill="#333" textLength="32.2" lengthAdjust="spacingAndGlyphs" stroke="#333" stroke-width="0.15">REVISIONS</text>
<text x="1878.9" y="1120.6" font-size="7.3" font-family="Liberation Sans" text-anchor="end" fill="#333" textLength="36" lengthAdjust="spacingAndGlyphs">11/27/2024</text>
<line x1="1804.1000000000001" y1="1123.3" x2="1881" y2="1123.3" stroke="#888" stroke-width="0.7" />
<line x1="1771" y1="1132.6" x2="1881" y2="1132.6" stroke="#999" stroke-width="0.6" />
<line x1="1771" y1="1142.3" x2="1881" y2="1142.3" stroke="#999" stroke-width="0.6" />
<line x1="1771" y1="1152.0" x2="1881" y2="1152.0" stroke="#999" stroke-width="0.6" />
<line x1="1771" y1="1161.6999999999998" x2="1881" y2="1161.6999999999998" stroke="#999" stroke-width="0.6" />
<line x1="1771" y1="1171.3999999999999" x2="1881" y2="1171.3999999999999" stroke="#999" stroke-width="0.6" />
<line x1="1771" y1="1181.1" x2="1881" y2="1181.1" stroke="#999" stroke-width="0.6" />
<line x1="1771" y1="1190.8" x2="1881" y2="1190.8" stroke="#999" stroke-width="0.6" />
<line x1="1771" y1="1200.5" x2="1881" y2="1200.5" stroke="#999" stroke-width="0.6" />
<text x="1770.6" y="1232.6" font-size="7.4" font-family="Liberation Sans" fill="#333" textLength="21.4" lengthAdjust="spacingAndGlyphs">SHEET</text>
<text x="1807.3" y="1236.0" font-size="18" font-family="Liberation Sans" fill="#111" textLength="23" lengthAdjust="spacingAndGlyphs">lp3</text>
<text x="1838.2" y="1232.6" font-size="7.4" font-family="Liberation Sans" fill="#333" textLength="9.1" lengthAdjust="spacingAndGlyphs">OF</text>
<text x="1859.6" y="1236.0" font-size="18" font-family="Liberation Sans" fill="#111">3</text>
</svg></body></html>
